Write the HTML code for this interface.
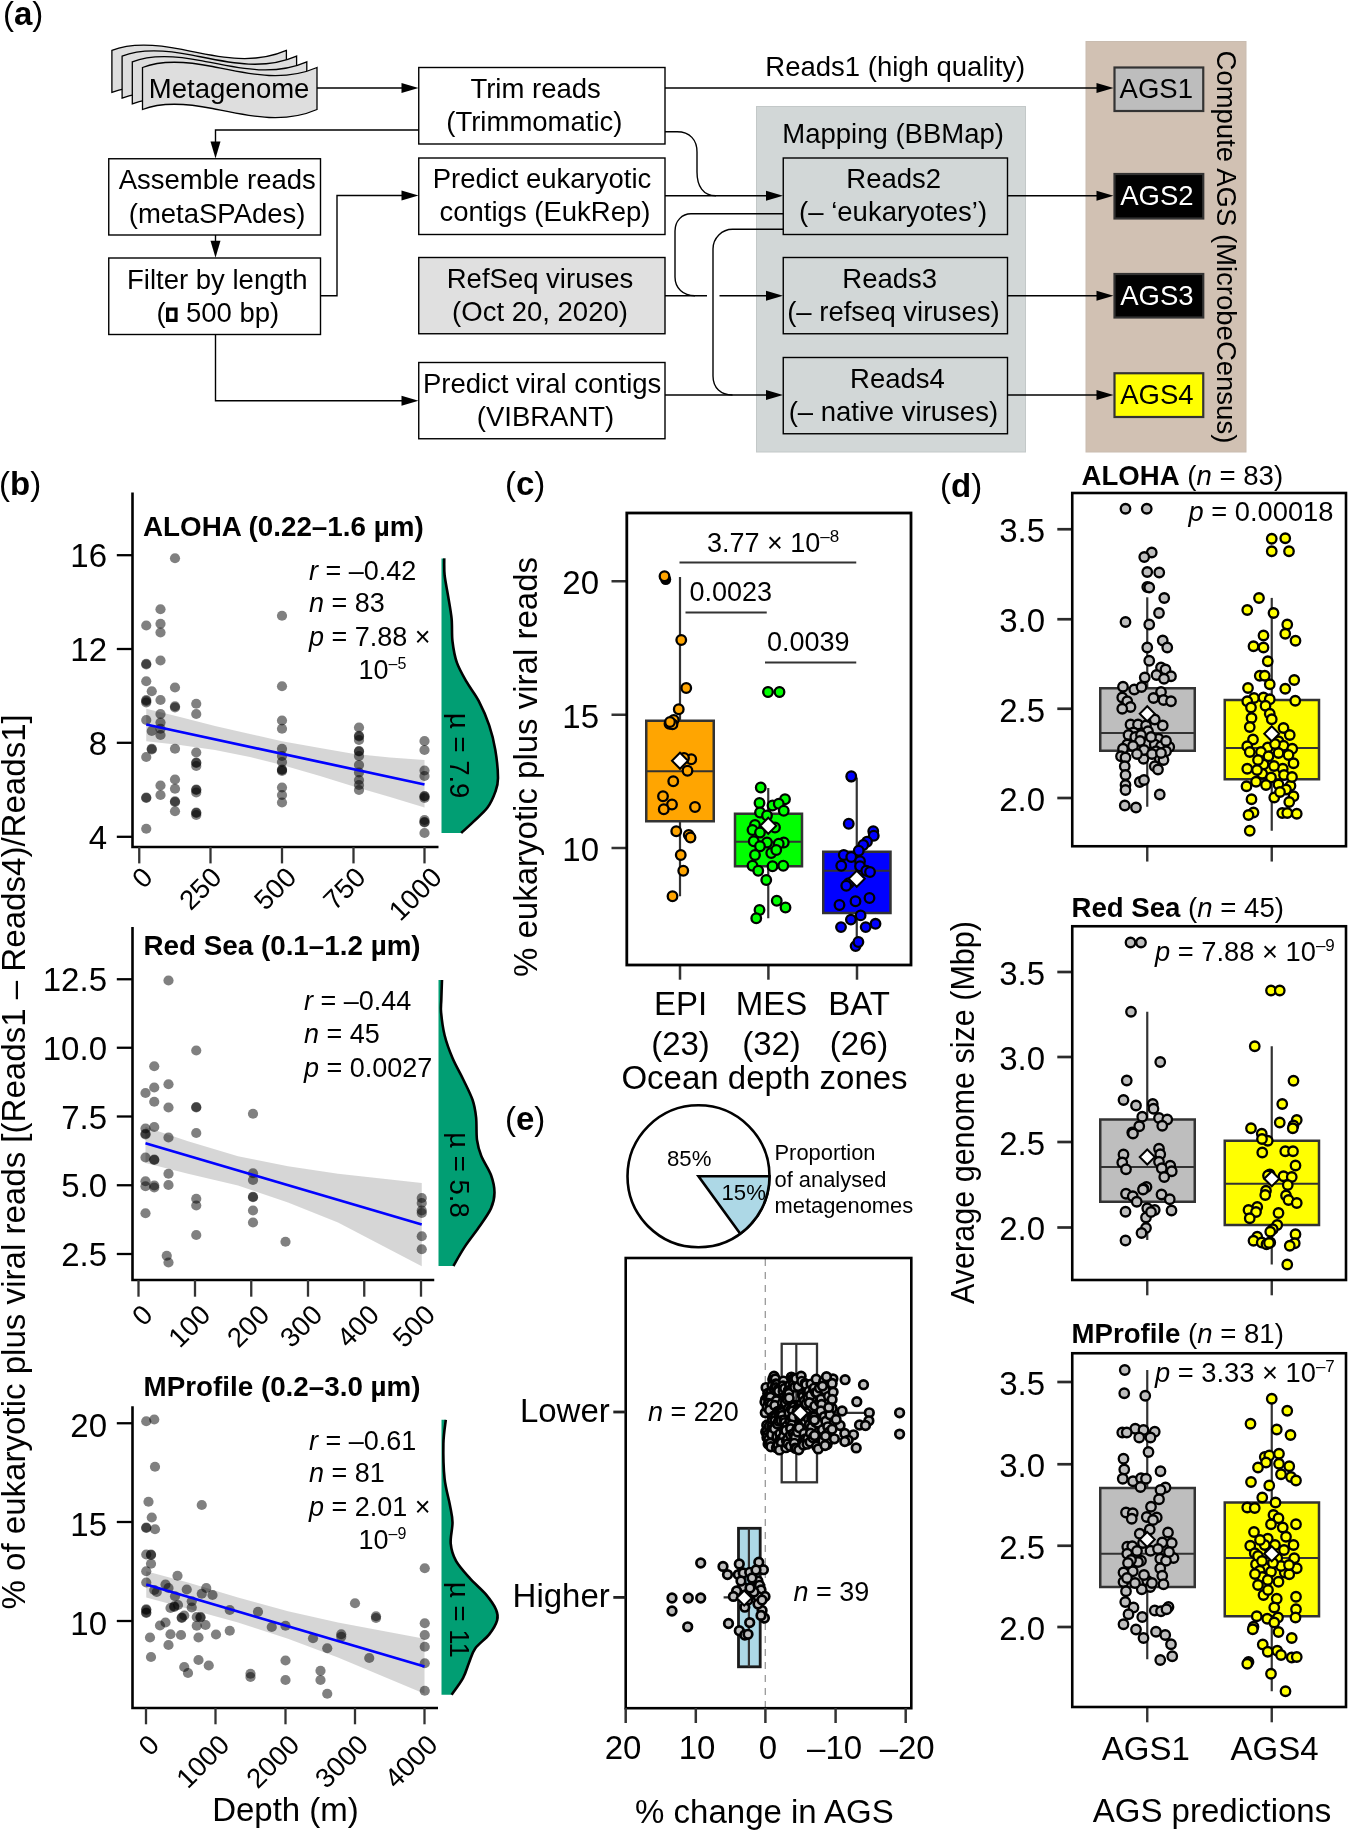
<!DOCTYPE html>
<html><head><meta charset="utf-8"><title>Figure</title>
<style>html,body{margin:0;padding:0;background:#fff}svg{display:block}text{font-family:"Liberation Sans",Arial,Helvetica,sans-serif}</style>
</head><body>
<svg width="1348" height="1830" viewBox="0 0 1348 1830">
<rect width="1348" height="1830" fill="#fff"/>
<g id="fig" opacity="0.999">
<g id="pa">
<rect x="756.5" y="106.5" width="269" height="345.5" fill="#d2d7d7" stroke="#c3c8c8" stroke-width="1"/>
<rect x="1086" y="41.5" width="160" height="410.5" fill="#d1c1b3" stroke="#c9bcb0" stroke-width="1"/>
<path d="M111.90,50.40 c20,-8 45,-6 70,-1 c35,7 70,16 104.5,1 v42 c-34.5,15 -69.5,6 -104.5,-1 c-25,-5 -50,-7 -70,1 z" fill="#dedede" stroke="#000" stroke-width="1.3" stroke-linejoin="miter"/>
<path d="M122.10,56.10 c20,-8 45,-6 70,-1 c35,7 70,16 104.5,1 v42 c-34.5,15 -69.5,6 -104.5,-1 c-25,-5 -50,-7 -70,1 z" fill="#dedede" stroke="#000" stroke-width="1.3" stroke-linejoin="miter"/>
<path d="M132.30,61.80 c20,-8 45,-6 70,-1 c35,7 70,16 104.5,1 v42 c-34.5,15 -69.5,6 -104.5,-1 c-25,-5 -50,-7 -70,1 z" fill="#dedede" stroke="#000" stroke-width="1.3" stroke-linejoin="miter"/>
<path d="M142.50,67.50 c20,-8 45,-6 70,-1 c35,7 70,16 104.5,1 v42 c-34.5,15 -69.5,6 -104.5,-1 c-25,-5 -50,-7 -70,1 z" fill="#dedede" stroke="#000" stroke-width="1.3" stroke-linejoin="miter"/>
<rect x="418.75" y="67.50" width="246.25" height="76.50" fill="#fff" stroke="#000" stroke-width="1.4"/>
<rect x="108.75" y="158.75" width="211.75" height="76.25" fill="#fff" stroke="#000" stroke-width="1.4"/>
<rect x="108.75" y="258.00" width="211.75" height="76.50" fill="#fff" stroke="#000" stroke-width="1.4"/>
<rect x="418.75" y="158.00" width="246.25" height="76.50" fill="#fff" stroke="#000" stroke-width="1.4"/>
<rect x="418.75" y="257.50" width="246.25" height="76.25" fill="#e0e0e0" stroke="#000" stroke-width="1.4"/>
<rect x="418.75" y="362.50" width="246.25" height="76.25" fill="#fff" stroke="#000" stroke-width="1.4"/>
<rect x="783.25" y="158.00" width="224.25" height="76.50" fill="none" stroke="#000" stroke-width="1.4"/>
<rect x="783.25" y="257.50" width="224.25" height="76.25" fill="none" stroke="#000" stroke-width="1.4"/>
<rect x="783.25" y="357.50" width="224.25" height="76.25" fill="none" stroke="#000" stroke-width="1.4"/>
<rect x="1114.50" y="67.50" width="88.75" height="43.50" fill="#bdbdbd" stroke="#333" stroke-width="2.2"/>
<rect x="1114.50" y="174.00" width="88.75" height="44.50" fill="#000" stroke="#333" stroke-width="2.2"/>
<rect x="1114.50" y="274.00" width="88.75" height="43.50" fill="#000" stroke="#333" stroke-width="2.2"/>
<rect x="1114.50" y="373.25" width="88.75" height="43.75" fill="#ffff00" stroke="#333" stroke-width="2.2"/>
<path d="M317,88 H405" fill="none" stroke="#000" stroke-width="1.4"/>
<path d="M418.50,88.00 l-17,-5 v10 z" fill="#000"/>
<path d="M418.75,130 H215.5 V145" fill="none" stroke="#000" stroke-width="1.4"/>
<path d="M215.50,158.50 l-5,-17 h10 z" fill="#000"/>
<path d="M215.5,235 V245" fill="none" stroke="#000" stroke-width="1.4"/>
<path d="M215.50,257.80 l-5,-17 h10 z" fill="#000"/>
<path d="M320.5,295.75 H337 V195.5 H405" fill="none" stroke="#000" stroke-width="1.4"/>
<path d="M418.50,195.50 l-17,-5 v10 z" fill="#000"/>
<path d="M215.5,334.5 V400.75 H405" fill="none" stroke="#000" stroke-width="1.4"/>
<path d="M418.50,400.75 l-17,-5 v10 z" fill="#000"/>
<path d="M665,88 H1100" fill="none" stroke="#000" stroke-width="1.4"/>
<path d="M1113.50,88.00 l-17,-5 v10 z" fill="#000"/>
<path d="M665,131.75 H677 C690,131.75 697,140 697,152 V172 C697,186 703,195.75 716,195.75" fill="none" stroke="#000" stroke-width="1.4"/>
<path d="M665,195.75 H770" fill="none" stroke="#000" stroke-width="1.4"/>
<path d="M783.00,195.75 l-17,-5 v10 z" fill="#000"/>
<path d="M783.25,213.75 H691 C682,213.75 675,221 675,231 V277 C675,288 683,295.75 695,295.75" fill="none" stroke="#000" stroke-width="1.4"/>
<path d="M665,295.75 H707 M719.5,295.75 H770" fill="none" stroke="#000" stroke-width="1.4"/>
<path d="M783.00,295.75 l-17,-5 v10 z" fill="#000"/>
<path d="M783.25,229.25 H732.5 C722,229.25 713,238 713,249 V376 C713,388 721,395 732.5,395" fill="none" stroke="#000" stroke-width="1.4"/>
<path d="M665,395 H770" fill="none" stroke="#000" stroke-width="1.4"/>
<path d="M783.00,395.00 l-17,-5 v10 z" fill="#000"/>
<path d="M1007.5,195.75 H1100" fill="none" stroke="#000" stroke-width="1.4"/>
<path d="M1113.50,195.75 l-17,-5 v10 z" fill="#000"/>
<path d="M1007.5,295.75 H1100" fill="none" stroke="#000" stroke-width="1.4"/>
<path d="M1113.50,295.75 l-17,-5 v10 z" fill="#000"/>
<path d="M1007.5,395 H1100" fill="none" stroke="#000" stroke-width="1.4"/>
<path d="M1113.50,395.00 l-17,-5 v10 z" fill="#000"/>
<text x="229.12" y="97.50" font-size="27.5" text-anchor="middle" fill="#000">Metagenome</text>
<text x="535.62" y="98.00" font-size="27.5" text-anchor="middle" fill="#000">Trim reads</text>
<text x="534.38" y="131.25" font-size="27.5" text-anchor="middle" fill="#000">(Trimmomatic)</text>
<text x="217.25" y="188.75" font-size="27.5" text-anchor="middle" fill="#000">Assemble reads</text>
<text x="217.12" y="222.50" font-size="27.5" text-anchor="middle" fill="#000">(metaSPAdes)</text>
<text x="217.25" y="288.75" font-size="27.5" text-anchor="middle" fill="#000">Filter by length</text>
<text x="156.6" y="322" font-size="27.5">(</text>
<rect x="167.6" y="309.1" width="8.4" height="11.3" fill="none" stroke="#000" stroke-width="3.2"/>
<text x="186" y="322" font-size="27.5">500 bp)</text>
<text x="542.00" y="188.00" font-size="27.5" text-anchor="middle" fill="#000">Predict eukaryotic</text>
<text x="545.00" y="221.25" font-size="27.5" text-anchor="middle" fill="#000">contigs (EukRep)</text>
<text x="540.00" y="288.00" font-size="27.5" text-anchor="middle" fill="#000">RefSeq viruses</text>
<text x="540.00" y="321.25" font-size="27.5" text-anchor="middle" fill="#000">(Oct 20, 2020)</text>
<text x="542.12" y="392.50" font-size="27.5" text-anchor="middle" fill="#000">Predict viral contigs</text>
<text x="545.50" y="426.25" font-size="27.5" text-anchor="middle" fill="#000">(VIBRANT)</text>
<text x="895.25" y="76.25" font-size="27.5" text-anchor="middle" fill="#000">Reads1 (high quality)</text>
<text x="893.12" y="143.00" font-size="27.5" text-anchor="middle" fill="#000">Mapping (BBMap)</text>
<text x="893.75" y="188.00" font-size="27.5" text-anchor="middle" fill="#000">Reads2</text>
<text x="893.12" y="221.25" font-size="27.5" text-anchor="middle" fill="#000">(– ‘eukaryotes’)</text>
<text x="889.75" y="288.00" font-size="27.5" text-anchor="middle" fill="#000">Reads3</text>
<text x="893.38" y="321.25" font-size="27.5" text-anchor="middle" fill="#000">(– refseq viruses)</text>
<text x="897.50" y="387.50" font-size="27.5" text-anchor="middle" fill="#000">Reads4</text>
<text x="893.38" y="421.25" font-size="27.5" text-anchor="middle" fill="#000">(– native viruses)</text>
<text x="1156.25" y="98.00" font-size="27.5" text-anchor="middle" fill="#000">AGS1</text>
<text x="1156.88" y="205.00" font-size="27.5" text-anchor="middle" fill="#fff">AGS2</text>
<text x="1156.88" y="304.50" font-size="27.5" text-anchor="middle" fill="#fff">AGS3</text>
<text x="1156.88" y="403.75" font-size="27.5" text-anchor="middle" fill="#000">AGS4</text>
<text transform="translate(1216.5,50.5) rotate(90)" font-size="27.5">Compute AGS (MicrobeCensus)</text>
<text x="3" y="24.5" font-size="33">(<tspan font-weight="bold">a</tspan>)</text>
</g>
<g id="pb">
<path d="M146.25,708.75 L180.00,717.00 L215.00,726.00 L250.00,734.00 L282.00,741.25 L320.00,748.00 L353.00,753.75 L390.00,757.50 L424.50,760.00 L424.50,807.50 L390.00,797.00 L353.00,786.25 L320.00,776.00 L282.00,765.00 L250.00,757.00 L215.00,750.00 L180.00,745.00 L146.25,741.25 Z" fill="#999" fill-opacity="0.4"/>
<g fill="#000" fill-opacity="0.5">
<circle cx="175.00" cy="558.25" r="5.1"/>
<circle cx="160.50" cy="609.25" r="5.1"/>
<circle cx="146.25" cy="625.50" r="5.1"/>
<circle cx="160.50" cy="623.75" r="5.1"/>
<circle cx="160.50" cy="632.50" r="5.1"/>
<circle cx="282.00" cy="615.75" r="5.1"/>
<circle cx="146.25" cy="663.75" r="5.1"/>
<circle cx="146.25" cy="664.50" r="5.1"/>
<circle cx="160.50" cy="660.50" r="5.1"/>
<circle cx="146.25" cy="681.25" r="5.1"/>
<circle cx="151.75" cy="691.25" r="5.1"/>
<circle cx="175.00" cy="687.50" r="5.1"/>
<circle cx="282.00" cy="686.25" r="5.1"/>
<circle cx="146.25" cy="700.00" r="5.1"/>
<circle cx="146.25" cy="702.50" r="5.1"/>
<circle cx="146.25" cy="701.00" r="5.1"/>
<circle cx="160.50" cy="700.00" r="5.1"/>
<circle cx="175.00" cy="706.25" r="5.1"/>
<circle cx="175.00" cy="707.50" r="5.1"/>
<circle cx="196.25" cy="703.75" r="5.1"/>
<circle cx="146.25" cy="720.00" r="5.1"/>
<circle cx="146.25" cy="757.00" r="5.1"/>
<circle cx="146.25" cy="797.50" r="5.1"/>
<circle cx="146.25" cy="798.00" r="5.1"/>
<circle cx="146.25" cy="828.75" r="5.1"/>
<circle cx="151.75" cy="731.00" r="5.1"/>
<circle cx="151.75" cy="748.75" r="5.1"/>
<circle cx="151.75" cy="749.50" r="5.1"/>
<circle cx="160.50" cy="714.00" r="5.1"/>
<circle cx="160.50" cy="722.50" r="5.1"/>
<circle cx="160.50" cy="728.75" r="5.1"/>
<circle cx="160.50" cy="735.00" r="5.1"/>
<circle cx="160.50" cy="785.50" r="5.1"/>
<circle cx="160.50" cy="795.00" r="5.1"/>
<circle cx="175.00" cy="748.75" r="5.1"/>
<circle cx="175.00" cy="779.50" r="5.1"/>
<circle cx="175.00" cy="788.75" r="5.1"/>
<circle cx="175.00" cy="801.25" r="5.1"/>
<circle cx="175.00" cy="802.00" r="5.1"/>
<circle cx="175.00" cy="811.25" r="5.1"/>
<circle cx="196.25" cy="714.00" r="5.1"/>
<circle cx="196.25" cy="752.50" r="5.1"/>
<circle cx="196.25" cy="762.50" r="5.1"/>
<circle cx="196.25" cy="763.00" r="5.1"/>
<circle cx="196.25" cy="766.00" r="5.1"/>
<circle cx="196.25" cy="789.50" r="5.1"/>
<circle cx="196.25" cy="790.00" r="5.1"/>
<circle cx="196.25" cy="792.50" r="5.1"/>
<circle cx="196.25" cy="812.50" r="5.1"/>
<circle cx="196.25" cy="813.00" r="5.1"/>
<circle cx="196.25" cy="815.00" r="5.1"/>
<circle cx="282.00" cy="720.50" r="5.1"/>
<circle cx="282.00" cy="728.75" r="5.1"/>
<circle cx="282.00" cy="748.75" r="5.1"/>
<circle cx="282.00" cy="756.00" r="5.1"/>
<circle cx="282.00" cy="762.00" r="5.1"/>
<circle cx="282.00" cy="769.50" r="5.1"/>
<circle cx="282.00" cy="770.00" r="5.1"/>
<circle cx="282.00" cy="771.00" r="5.1"/>
<circle cx="282.00" cy="787.50" r="5.1"/>
<circle cx="282.00" cy="795.00" r="5.1"/>
<circle cx="282.00" cy="802.50" r="5.1"/>
<circle cx="359.00" cy="727.50" r="5.1"/>
<circle cx="359.00" cy="735.75" r="5.1"/>
<circle cx="359.00" cy="736.50" r="5.1"/>
<circle cx="359.00" cy="740.00" r="5.1"/>
<circle cx="359.00" cy="751.00" r="5.1"/>
<circle cx="359.00" cy="751.50" r="5.1"/>
<circle cx="359.00" cy="756.00" r="5.1"/>
<circle cx="359.00" cy="765.00" r="5.1"/>
<circle cx="359.00" cy="772.50" r="5.1"/>
<circle cx="359.00" cy="780.00" r="5.1"/>
<circle cx="359.00" cy="785.00" r="5.1"/>
<circle cx="359.00" cy="790.00" r="5.1"/>
<circle cx="424.50" cy="741.00" r="5.1"/>
<circle cx="424.50" cy="750.00" r="5.1"/>
<circle cx="424.50" cy="770.50" r="5.1"/>
<circle cx="424.50" cy="776.00" r="5.1"/>
<circle cx="424.50" cy="796.00" r="5.1"/>
<circle cx="424.50" cy="796.50" r="5.1"/>
<circle cx="424.50" cy="798.00" r="5.1"/>
<circle cx="424.50" cy="820.00" r="5.1"/>
<circle cx="424.50" cy="822.00" r="5.1"/>
<circle cx="424.50" cy="822.50" r="5.1"/>
<circle cx="424.50" cy="833.00" r="5.1"/>
</g>
<path d="M146.25,724.5 L424.5,784.5" stroke="#0000ff" stroke-width="2.7" fill="none"/>
<path d="M132.50,492.50 V847.00 H438.50" fill="none" stroke="#000" stroke-width="2.6" stroke-linejoin="miter"/>
<path d="M116.8,555.20 H132.50" stroke="#000" stroke-width="2.3"/>
<path d="M116.8,649.00 H132.50" stroke="#000" stroke-width="2.3"/>
<path d="M116.8,742.80 H132.50" stroke="#000" stroke-width="2.3"/>
<path d="M116.8,836.80 H132.50" stroke="#000" stroke-width="2.3"/>
<path d="M139.25,847.00 V863.40" stroke="#333" stroke-width="2.3"/>
<path d="M210.50,847.00 V863.40" stroke="#333" stroke-width="2.3"/>
<path d="M282.00,847.00 V863.40" stroke="#333" stroke-width="2.3"/>
<path d="M353.50,847.00 V863.40" stroke="#333" stroke-width="2.3"/>
<path d="M424.50,847.00 V863.40" stroke="#333" stroke-width="2.3"/>
<text x="107" y="567.20" font-size="33" text-anchor="end">16</text>
<text x="107" y="661.00" font-size="33" text-anchor="end">12</text>
<text x="107" y="754.80" font-size="33" text-anchor="end">8</text>
<text x="107" y="848.80" font-size="33" text-anchor="end">4</text>
<text transform="translate(154.35,879.00) rotate(-45)" font-size="27.5" text-anchor="end">0</text>
<text transform="translate(223.20,879.00) rotate(-45)" font-size="27.5" text-anchor="end">250</text>
<text transform="translate(298.00,879.00) rotate(-45)" font-size="27.5" text-anchor="end">500</text>
<text transform="translate(367.30,879.00) rotate(-45)" font-size="27.5" text-anchor="end">750</text>
<text transform="translate(443.60,879.00) rotate(-45)" font-size="27.5" text-anchor="end">1000</text>
<text x="143" y="535.5" font-size="27.8" font-weight="bold">ALOHA (0.22–1.6 µm)</text>
<text x="309.00" y="579.50" font-size="27"><tspan font-style="italic">r</tspan> = –0.42</text>
<text x="309.00" y="612.00" font-size="27"><tspan font-style="italic">n</tspan> = 83</text>
<text x="309.00" y="645.50" font-size="27"><tspan font-style="italic">p</tspan> = 7.88 ×</text>
<text x="358.50" y="678.75" font-size="27">10<tspan font-size="16" dy="-10">–5</tspan></text>
<path d="M444.25,558.40 C444.31,561.17 443.96,568.73 444.60,575.00 C445.24,581.27 446.93,588.72 448.10,596.00 C449.27,603.28 450.87,611.12 451.60,618.70 C452.33,626.28 451.63,634.22 452.50,641.50 C453.37,648.78 454.47,655.70 456.80,662.40 C459.13,669.10 462.85,675.28 466.50,681.70 C470.15,688.12 474.92,693.62 478.70,700.90 C482.48,708.18 486.43,717.23 489.20,725.40 C491.97,733.57 493.83,741.15 495.30,749.90 C496.77,758.65 498.00,770.90 498.00,777.90 C498.00,784.90 497.05,786.95 495.30,791.90 C493.55,796.85 491.13,802.65 487.50,807.60 C483.87,812.55 477.88,817.37 473.50,821.60 C469.12,825.83 463.25,831.10 461.20,833.00 L441.50,833.00 L441.50,558.40 Z" fill="#009e73"/>
<path d="M444.25,558.40 C444.31,561.17 443.96,568.73 444.60,575.00 C445.24,581.27 446.93,588.72 448.10,596.00 C449.27,603.28 450.87,611.12 451.60,618.70 C452.33,626.28 451.63,634.22 452.50,641.50 C453.37,648.78 454.47,655.70 456.80,662.40 C459.13,669.10 462.85,675.28 466.50,681.70 C470.15,688.12 474.92,693.62 478.70,700.90 C482.48,708.18 486.43,717.23 489.20,725.40 C491.97,733.57 493.83,741.15 495.30,749.90 C496.77,758.65 498.00,770.90 498.00,777.90 C498.00,784.90 497.05,786.95 495.30,791.90 C493.55,796.85 491.13,802.65 487.50,807.60 C483.87,812.55 477.88,817.37 473.50,821.60 C469.12,825.83 463.25,831.10 461.20,833.00" fill="none" stroke="#000" stroke-width="2.6"/>
<text transform="translate(450,713.00) rotate(90)" font-size="27.5">µ = 7.9</text>
<path d="M145.50,1127.00 L188.00,1141.25 L238.00,1156.25 L288.00,1166.25 L338.00,1173.75 L421.75,1183.00 L421.75,1266.25 L338.00,1222.50 L288.00,1202.50 L238.00,1185.50 L188.00,1173.75 L145.50,1163.00 Z" fill="#999" fill-opacity="0.4"/>
<g fill="#000" fill-opacity="0.5">
<circle cx="168.50" cy="980.50" r="5.1"/>
<circle cx="196.25" cy="1050.50" r="5.1"/>
<circle cx="154.25" cy="1066.25" r="5.1"/>
<circle cx="168.50" cy="1084.25" r="5.1"/>
<circle cx="154.25" cy="1087.50" r="5.1"/>
<circle cx="145.50" cy="1093.00" r="5.1"/>
<circle cx="154.25" cy="1101.75" r="5.1"/>
<circle cx="168.50" cy="1107.50" r="5.1"/>
<circle cx="196.25" cy="1107.00" r="5.1"/>
<circle cx="196.25" cy="1107.50" r="5.1"/>
<circle cx="253.00" cy="1113.75" r="5.1"/>
<circle cx="145.50" cy="1128.50" r="5.1"/>
<circle cx="154.25" cy="1127.00" r="5.1"/>
<circle cx="145.50" cy="1133.75" r="5.1"/>
<circle cx="145.50" cy="1134.50" r="5.1"/>
<circle cx="196.25" cy="1133.00" r="5.1"/>
<circle cx="168.50" cy="1137.50" r="5.1"/>
<circle cx="145.50" cy="1157.50" r="5.1"/>
<circle cx="154.25" cy="1159.50" r="5.1"/>
<circle cx="154.25" cy="1160.00" r="5.1"/>
<circle cx="168.50" cy="1173.75" r="5.1"/>
<circle cx="168.50" cy="1185.00" r="5.1"/>
<circle cx="145.50" cy="1181.25" r="5.1"/>
<circle cx="145.50" cy="1186.25" r="5.1"/>
<circle cx="154.25" cy="1185.50" r="5.1"/>
<circle cx="154.25" cy="1187.50" r="5.1"/>
<circle cx="145.50" cy="1213.25" r="5.1"/>
<circle cx="196.25" cy="1198.75" r="5.1"/>
<circle cx="196.25" cy="1205.50" r="5.1"/>
<circle cx="196.25" cy="1235.00" r="5.1"/>
<circle cx="166.75" cy="1255.75" r="5.1"/>
<circle cx="168.50" cy="1262.50" r="5.1"/>
<circle cx="253.00" cy="1173.25" r="5.1"/>
<circle cx="253.00" cy="1180.00" r="5.1"/>
<circle cx="253.00" cy="1196.75" r="5.1"/>
<circle cx="253.00" cy="1197.25" r="5.1"/>
<circle cx="253.00" cy="1210.50" r="5.1"/>
<circle cx="253.00" cy="1222.50" r="5.1"/>
<circle cx="285.50" cy="1241.75" r="5.1"/>
<circle cx="421.75" cy="1198.00" r="5.1"/>
<circle cx="421.75" cy="1203.00" r="5.1"/>
<circle cx="421.75" cy="1210.50" r="5.1"/>
<circle cx="421.75" cy="1213.00" r="5.1"/>
<circle cx="421.75" cy="1236.25" r="5.1"/>
<circle cx="421.75" cy="1249.25" r="5.1"/>
</g>
<path d="M145.5,1143.25 L421.75,1224.5" stroke="#0000ff" stroke-width="2.7" fill="none"/>
<path d="M132.50,927.00 V1280.00 H434.25" fill="none" stroke="#000" stroke-width="2.6" stroke-linejoin="miter"/>
<path d="M116.8,979.25 H132.50" stroke="#000" stroke-width="2.3"/>
<path d="M116.8,1047.75 H132.50" stroke="#000" stroke-width="2.3"/>
<path d="M116.8,1116.50 H132.50" stroke="#000" stroke-width="2.3"/>
<path d="M116.8,1185.25 H132.50" stroke="#000" stroke-width="2.3"/>
<path d="M116.8,1254.00 H132.50" stroke="#000" stroke-width="2.3"/>
<path d="M138.50,1280.00 V1296.70" stroke="#333" stroke-width="2.3"/>
<path d="M195.00,1280.00 V1296.70" stroke="#333" stroke-width="2.3"/>
<path d="M251.25,1280.00 V1296.70" stroke="#333" stroke-width="2.3"/>
<path d="M308.00,1280.00 V1296.70" stroke="#333" stroke-width="2.3"/>
<path d="M364.25,1280.00 V1296.70" stroke="#333" stroke-width="2.3"/>
<path d="M421.00,1280.00 V1296.70" stroke="#333" stroke-width="2.3"/>
<text x="107" y="991.25" font-size="33" text-anchor="end">12.5</text>
<text x="107" y="1059.75" font-size="33" text-anchor="end">10.0</text>
<text x="107" y="1128.50" font-size="33" text-anchor="end">7.5</text>
<text x="107" y="1197.25" font-size="33" text-anchor="end">5.0</text>
<text x="107" y="1266.00" font-size="33" text-anchor="end">2.5</text>
<text transform="translate(154.20,1316.50) rotate(-45)" font-size="27.5" text-anchor="end">0</text>
<text transform="translate(212.10,1316.50) rotate(-45)" font-size="27.5" text-anchor="end">100</text>
<text transform="translate(270.95,1316.50) rotate(-45)" font-size="27.5" text-anchor="end">200</text>
<text transform="translate(324.00,1316.50) rotate(-45)" font-size="27.5" text-anchor="end">300</text>
<text transform="translate(380.75,1316.50) rotate(-45)" font-size="27.5" text-anchor="end">400</text>
<text transform="translate(436.70,1316.50) rotate(-45)" font-size="27.5" text-anchor="end">500</text>
<text x="143.5" y="955" font-size="27.8" font-weight="bold">Red Sea (0.1–1.2 µm)</text>
<text x="304.00" y="1010.00" font-size="27"><tspan font-style="italic">r</tspan> = –0.44</text>
<text x="304.00" y="1043.00" font-size="27"><tspan font-style="italic">n</tspan> = 45</text>
<text x="304.00" y="1076.75" font-size="27"><tspan font-style="italic">p</tspan> = 0.0027</text>
<path d="M442.00,980.00 C441.88,983.33 441.45,994.58 441.30,1000.00 C441.15,1005.42 440.55,1006.63 441.10,1012.50 C441.65,1018.37 442.70,1027.62 444.60,1035.20 C446.50,1042.78 449.43,1050.70 452.50,1058.00 C455.57,1065.30 459.65,1072.00 463.00,1079.00 C466.35,1086.00 470.42,1093.60 472.60,1100.00 C474.78,1106.40 475.37,1110.73 476.10,1117.40 C476.83,1124.07 476.13,1133.57 477.00,1140.00 C477.87,1146.43 478.97,1150.17 481.30,1156.00 C483.63,1161.83 488.80,1168.90 491.00,1175.00 C493.20,1181.10 494.50,1187.03 494.50,1192.60 C494.50,1198.17 493.63,1202.57 491.00,1208.40 C488.37,1214.23 483.08,1221.18 478.70,1227.60 C474.32,1234.02 468.92,1240.50 464.70,1246.90 C460.48,1253.30 455.28,1262.82 453.40,1266.00 L438.50,1266.00 L438.50,980.00 Z" fill="#009e73"/>
<path d="M442.00,980.00 C441.88,983.33 441.45,994.58 441.30,1000.00 C441.15,1005.42 440.55,1006.63 441.10,1012.50 C441.65,1018.37 442.70,1027.62 444.60,1035.20 C446.50,1042.78 449.43,1050.70 452.50,1058.00 C455.57,1065.30 459.65,1072.00 463.00,1079.00 C466.35,1086.00 470.42,1093.60 472.60,1100.00 C474.78,1106.40 475.37,1110.73 476.10,1117.40 C476.83,1124.07 476.13,1133.57 477.00,1140.00 C477.87,1146.43 478.97,1150.17 481.30,1156.00 C483.63,1161.83 488.80,1168.90 491.00,1175.00 C493.20,1181.10 494.50,1187.03 494.50,1192.60 C494.50,1198.17 493.63,1202.57 491.00,1208.40 C488.37,1214.23 483.08,1221.18 478.70,1227.60 C474.32,1234.02 468.92,1240.50 464.70,1246.90 C460.48,1253.30 455.28,1262.82 453.40,1266.00" fill="none" stroke="#000" stroke-width="2.6"/>
<text transform="translate(450,1132.30) rotate(90)" font-size="27.5">µ = 5.8</text>
<path d="M146.25,1571.25 L188.00,1582.50 L238.00,1597.50 L288.00,1611.25 L338.00,1622.50 L424.50,1638.75 L424.50,1693.75 L338.00,1657.50 L288.00,1638.75 L238.00,1622.50 L188.00,1608.75 L146.25,1597.50 Z" fill="#999" fill-opacity="0.4"/>
<g fill="#000" fill-opacity="0.5">
<circle cx="146.25" cy="1421.25" r="5.1"/>
<circle cx="154.25" cy="1419.50" r="5.1"/>
<circle cx="155.00" cy="1466.75" r="5.1"/>
<circle cx="148.50" cy="1501.75" r="5.1"/>
<circle cx="201.75" cy="1505.00" r="5.1"/>
<circle cx="151.75" cy="1517.50" r="5.1"/>
<circle cx="146.25" cy="1527.50" r="5.1"/>
<circle cx="146.25" cy="1528.00" r="5.1"/>
<circle cx="155.00" cy="1529.25" r="5.1"/>
<circle cx="146.25" cy="1554.50" r="5.1"/>
<circle cx="151.00" cy="1555.00" r="5.1"/>
<circle cx="151.00" cy="1554.50" r="5.1"/>
<circle cx="151.00" cy="1563.75" r="5.1"/>
<circle cx="146.25" cy="1571.25" r="5.1"/>
<circle cx="177.50" cy="1575.75" r="5.1"/>
<circle cx="424.75" cy="1568.25" r="5.1"/>
<circle cx="146.25" cy="1582.50" r="5.1"/>
<circle cx="154.25" cy="1590.00" r="5.1"/>
<circle cx="156.75" cy="1592.00" r="5.1"/>
<circle cx="165.50" cy="1584.50" r="5.1"/>
<circle cx="168.50" cy="1588.00" r="5.1"/>
<circle cx="175.00" cy="1596.25" r="5.1"/>
<circle cx="186.75" cy="1589.50" r="5.1"/>
<circle cx="206.25" cy="1588.00" r="5.1"/>
<circle cx="201.75" cy="1593.75" r="5.1"/>
<circle cx="212.50" cy="1595.00" r="5.1"/>
<circle cx="191.75" cy="1601.25" r="5.1"/>
<circle cx="178.00" cy="1605.00" r="5.1"/>
<circle cx="170.50" cy="1608.00" r="5.1"/>
<circle cx="174.25" cy="1606.25" r="5.1"/>
<circle cx="174.25" cy="1607.00" r="5.1"/>
<circle cx="191.75" cy="1607.50" r="5.1"/>
<circle cx="146.25" cy="1609.25" r="5.1"/>
<circle cx="146.25" cy="1610.00" r="5.1"/>
<circle cx="146.25" cy="1612.50" r="5.1"/>
<circle cx="146.25" cy="1613.00" r="5.1"/>
<circle cx="229.75" cy="1610.00" r="5.1"/>
<circle cx="258.00" cy="1611.75" r="5.1"/>
<circle cx="184.25" cy="1615.50" r="5.1"/>
<circle cx="181.75" cy="1617.50" r="5.1"/>
<circle cx="181.75" cy="1618.00" r="5.1"/>
<circle cx="196.75" cy="1617.00" r="5.1"/>
<circle cx="200.50" cy="1617.00" r="5.1"/>
<circle cx="200.50" cy="1617.50" r="5.1"/>
<circle cx="165.50" cy="1622.50" r="5.1"/>
<circle cx="160.00" cy="1625.50" r="5.1"/>
<circle cx="196.75" cy="1625.75" r="5.1"/>
<circle cx="205.50" cy="1625.00" r="5.1"/>
<circle cx="229.75" cy="1630.75" r="5.1"/>
<circle cx="271.75" cy="1627.00" r="5.1"/>
<circle cx="285.50" cy="1625.75" r="5.1"/>
<circle cx="170.50" cy="1634.25" r="5.1"/>
<circle cx="181.00" cy="1635.00" r="5.1"/>
<circle cx="198.50" cy="1637.50" r="5.1"/>
<circle cx="216.00" cy="1634.50" r="5.1"/>
<circle cx="150.00" cy="1637.50" r="5.1"/>
<circle cx="168.50" cy="1645.00" r="5.1"/>
<circle cx="151.00" cy="1657.00" r="5.1"/>
<circle cx="198.50" cy="1660.00" r="5.1"/>
<circle cx="208.75" cy="1665.50" r="5.1"/>
<circle cx="184.25" cy="1667.00" r="5.1"/>
<circle cx="188.00" cy="1673.00" r="5.1"/>
<circle cx="250.50" cy="1673.75" r="5.1"/>
<circle cx="250.50" cy="1677.00" r="5.1"/>
<circle cx="285.50" cy="1660.50" r="5.1"/>
<circle cx="285.50" cy="1680.00" r="5.1"/>
<circle cx="313.00" cy="1638.25" r="5.1"/>
<circle cx="327.25" cy="1648.25" r="5.1"/>
<circle cx="320.50" cy="1670.75" r="5.1"/>
<circle cx="320.50" cy="1680.00" r="5.1"/>
<circle cx="327.25" cy="1693.75" r="5.1"/>
<circle cx="341.25" cy="1634.25" r="5.1"/>
<circle cx="341.25" cy="1636.75" r="5.1"/>
<circle cx="355.00" cy="1603.25" r="5.1"/>
<circle cx="369.25" cy="1658.00" r="5.1"/>
<circle cx="376.00" cy="1616.25" r="5.1"/>
<circle cx="376.00" cy="1618.00" r="5.1"/>
<circle cx="424.75" cy="1623.25" r="5.1"/>
<circle cx="424.75" cy="1635.00" r="5.1"/>
<circle cx="424.75" cy="1646.75" r="5.1"/>
<circle cx="424.75" cy="1663.25" r="5.1"/>
<circle cx="424.75" cy="1690.75" r="5.1"/>
</g>
<path d="M146.25,1584.5 L424.5,1666.5" stroke="#0000ff" stroke-width="2.7" fill="none"/>
<path d="M132.50,1406.25 V1708.00 H438.00" fill="none" stroke="#000" stroke-width="2.6" stroke-linejoin="miter"/>
<path d="M116.8,1423.25 H132.50" stroke="#000" stroke-width="2.3"/>
<path d="M116.8,1522.00 H132.50" stroke="#000" stroke-width="2.3"/>
<path d="M116.8,1621.00 H132.50" stroke="#000" stroke-width="2.3"/>
<path d="M146.00,1708.00 V1724.30" stroke="#333" stroke-width="2.3"/>
<path d="M215.50,1708.00 V1724.30" stroke="#333" stroke-width="2.3"/>
<path d="M285.50,1708.00 V1724.30" stroke="#333" stroke-width="2.3"/>
<path d="M355.00,1708.00 V1724.30" stroke="#333" stroke-width="2.3"/>
<path d="M424.50,1708.00 V1724.30" stroke="#333" stroke-width="2.3"/>
<text x="107" y="1436.75" font-size="33" text-anchor="end">20</text>
<text x="107" y="1535.50" font-size="33" text-anchor="end">15</text>
<text x="107" y="1634.50" font-size="33" text-anchor="end">10</text>
<text transform="translate(160.80,1746.40) rotate(-45)" font-size="27.5" text-anchor="end">0</text>
<text transform="translate(231.00,1746.40) rotate(-45)" font-size="27.5" text-anchor="end">1000</text>
<text transform="translate(301.10,1746.40) rotate(-45)" font-size="27.5" text-anchor="end">2000</text>
<text transform="translate(369.80,1746.40) rotate(-45)" font-size="27.5" text-anchor="end">3000</text>
<text transform="translate(439.20,1746.40) rotate(-45)" font-size="27.5" text-anchor="end">4000</text>
<text x="143.5" y="1396.25" font-size="27.8" font-weight="bold">MProfile (0.2–3.0 µm)</text>
<text x="309.00" y="1449.50" font-size="27"><tspan font-style="italic">r</tspan> = –0.61</text>
<text x="309.00" y="1482.00" font-size="27"><tspan font-style="italic">n</tspan> = 81</text>
<text x="309.00" y="1515.50" font-size="27"><tspan font-style="italic">p</tspan> = 2.01 ×</text>
<text x="358.50" y="1548.75" font-size="27">10<tspan font-size="16" dy="-10">–9</tspan></text>
<path d="M445.80,1419.80 C445.40,1423.78 443.60,1433.88 443.40,1443.70 C443.20,1453.52 443.52,1468.48 444.60,1478.70 C445.68,1488.92 448.58,1497.72 449.90,1505.00 C451.22,1512.28 452.37,1516.00 452.50,1522.40 C452.63,1528.80 450.12,1536.98 450.70,1543.40 C451.28,1549.82 452.78,1555.07 456.00,1560.90 C459.22,1566.73 465.05,1572.85 470.00,1578.40 C474.95,1583.95 481.33,1588.95 485.70,1594.20 C490.07,1599.45 494.30,1605.53 496.20,1609.90 C498.10,1614.27 498.27,1616.32 497.10,1620.40 C495.93,1624.48 492.85,1629.73 489.20,1634.40 C485.55,1639.07 478.55,1643.73 475.20,1648.40 C471.85,1653.07 471.13,1657.45 469.10,1662.40 C467.07,1667.35 465.92,1672.72 463.00,1678.10 C460.08,1683.48 453.50,1691.93 451.60,1694.70 L441.50,1694.70 L441.50,1419.80 Z" fill="#009e73"/>
<path d="M445.80,1419.80 C445.40,1423.78 443.60,1433.88 443.40,1443.70 C443.20,1453.52 443.52,1468.48 444.60,1478.70 C445.68,1488.92 448.58,1497.72 449.90,1505.00 C451.22,1512.28 452.37,1516.00 452.50,1522.40 C452.63,1528.80 450.12,1536.98 450.70,1543.40 C451.28,1549.82 452.78,1555.07 456.00,1560.90 C459.22,1566.73 465.05,1572.85 470.00,1578.40 C474.95,1583.95 481.33,1588.95 485.70,1594.20 C490.07,1599.45 494.30,1605.53 496.20,1609.90 C498.10,1614.27 498.27,1616.32 497.10,1620.40 C495.93,1624.48 492.85,1629.73 489.20,1634.40 C485.55,1639.07 478.55,1643.73 475.20,1648.40 C471.85,1653.07 471.13,1657.45 469.10,1662.40 C467.07,1667.35 465.92,1672.72 463.00,1678.10 C460.08,1683.48 453.50,1691.93 451.60,1694.70" fill="none" stroke="#000" stroke-width="2.6"/>
<text transform="translate(450,1582.00) rotate(90)" font-size="27.5">µ = 11</text>
<text transform="translate(25.4,1609.6) rotate(-90)" font-size="33.1">% of eukaryotic plus viral reads [(Reads1 – Reads4)/Reads1]</text>
<text x="285.5" y="1821.25" font-size="33" text-anchor="middle">Depth (m)</text>
<text x="-1" y="494.5" font-size="33">(<tspan font-weight="bold">b</tspan>)</text>
</g>
<g id="pc">
<path d="M611.5,581.25 H626" stroke="#333" stroke-width="2.5"/>
<path d="M611.5,714.75 H626" stroke="#333" stroke-width="2.5"/>
<path d="M611.5,848.00 H626" stroke="#333" stroke-width="2.5"/>
<text x="599" y="594.25" font-size="33" text-anchor="end">20</text>
<text x="599" y="727.75" font-size="33" text-anchor="end">15</text>
<text x="599" y="861.00" font-size="33" text-anchor="end">10</text>
<path d="M680.00,965 V979.7" stroke="#333" stroke-width="2.5"/>
<path d="M768.40,965 V979.7" stroke="#333" stroke-width="2.5"/>
<path d="M857.00,965 V979.7" stroke="#333" stroke-width="2.5"/>
<path d="M680,577 V896.25" stroke="#333" stroke-width="2.2" fill="none"/>
<rect x="646.25" y="720.75" width="67.5" height="100.5" fill="#ffa500" stroke="#333" stroke-width="2.5"/>
<path d="M646.25,771.25 H713.75" stroke="#333" stroke-width="2.2" fill="none"/>
<path d="M768.25,788 V918.25" stroke="#333" stroke-width="2.2" fill="none"/>
<rect x="735" y="813.75" width="67" height="52.5" fill="#00ff00" stroke="#333" stroke-width="2.5"/>
<path d="M735,841.75 H802" stroke="#333" stroke-width="2.2" fill="none"/>
<path d="M856.75,777.5 V946" stroke="#333" stroke-width="2.2" fill="none"/>
<rect x="823.25" y="851.75" width="67.25" height="61.25" fill="#0000ff" stroke="#333" stroke-width="2.5"/>
<path d="M823.25,870.75 H890.5" stroke="#333" stroke-width="2.2" fill="none"/>
<circle cx="665.75" cy="579.5" r="5.5" fill="#000"/>
<g fill="#ffa500" stroke="#000" stroke-width="2.3">
<circle cx="664.50" cy="576.25" r="4.8"/>
<circle cx="681.25" cy="640.00" r="4.8"/>
<circle cx="686.25" cy="688.00" r="4.8"/>
<circle cx="678.75" cy="709.25" r="4.8"/>
<circle cx="673.75" cy="720.00" r="4.8"/>
<circle cx="669.50" cy="723.75" r="4.8"/>
<circle cx="672.50" cy="724.25" r="4.8"/>
<circle cx="691.25" cy="759.25" r="4.8"/>
<circle cx="687.50" cy="770.75" r="4.8"/>
<circle cx="673.25" cy="781.25" r="4.8"/>
<circle cx="663.00" cy="796.25" r="4.8"/>
<circle cx="672.00" cy="804.50" r="4.8"/>
<circle cx="663.75" cy="809.25" r="4.8"/>
<circle cx="695.00" cy="807.00" r="4.8"/>
<circle cx="676.25" cy="831.25" r="4.8"/>
<circle cx="688.75" cy="835.00" r="4.8"/>
<circle cx="690.50" cy="837.50" r="4.8"/>
<circle cx="680.75" cy="855.00" r="4.8"/>
<circle cx="683.25" cy="870.75" r="4.8"/>
<circle cx="672.50" cy="896.25" r="4.8"/>
<circle cx="684.00" cy="758.00" r="4.8"/>
<circle cx="670.00" cy="722.00" r="4.8"/>
</g>
<circle cx="768" cy="692" r="5.5" fill="#000"/><circle cx="779.5" cy="692" r="5.5" fill="#000"/>
<g fill="#00ff00" stroke="#000" stroke-width="2.3">
<circle cx="768.00" cy="692.00" r="4.8"/>
<circle cx="779.50" cy="692.00" r="4.8"/>
<circle cx="760.75" cy="787.50" r="4.8"/>
<circle cx="785.00" cy="799.25" r="4.8"/>
<circle cx="759.50" cy="803.00" r="4.8"/>
<circle cx="772.50" cy="805.50" r="4.8"/>
<circle cx="778.75" cy="803.75" r="4.8"/>
<circle cx="783.75" cy="810.75" r="4.8"/>
<circle cx="760.00" cy="812.50" r="4.8"/>
<circle cx="767.00" cy="815.50" r="4.8"/>
<circle cx="755.00" cy="825.00" r="4.8"/>
<circle cx="752.50" cy="830.00" r="4.8"/>
<circle cx="775.00" cy="827.50" r="4.8"/>
<circle cx="760.00" cy="832.50" r="4.8"/>
<circle cx="753.75" cy="841.25" r="4.8"/>
<circle cx="767.00" cy="842.50" r="4.8"/>
<circle cx="783.75" cy="842.50" r="4.8"/>
<circle cx="778.75" cy="843.75" r="4.8"/>
<circle cx="760.00" cy="846.25" r="4.8"/>
<circle cx="755.00" cy="855.00" r="4.8"/>
<circle cx="771.25" cy="853.00" r="4.8"/>
<circle cx="776.25" cy="850.00" r="4.8"/>
<circle cx="752.50" cy="865.75" r="4.8"/>
<circle cx="772.50" cy="866.25" r="4.8"/>
<circle cx="783.25" cy="865.75" r="4.8"/>
<circle cx="758.25" cy="870.75" r="4.8"/>
<circle cx="766.25" cy="880.00" r="4.8"/>
<circle cx="776.75" cy="900.75" r="4.8"/>
<circle cx="785.50" cy="907.50" r="4.8"/>
<circle cx="759.50" cy="910.00" r="4.8"/>
<circle cx="756.25" cy="918.25" r="4.8"/>
</g>
<circle cx="851.25" cy="777" r="5.5" fill="#000"/>
<g fill="#0000ff" stroke="#000" stroke-width="2.3">
<circle cx="851.25" cy="776.25" r="4.8"/>
<circle cx="848.75" cy="823.75" r="4.8"/>
<circle cx="873.25" cy="831.25" r="4.8"/>
<circle cx="873.75" cy="835.75" r="4.8"/>
<circle cx="867.00" cy="841.75" r="4.8"/>
<circle cx="863.25" cy="845.00" r="4.8"/>
<circle cx="858.75" cy="850.75" r="4.8"/>
<circle cx="843.75" cy="855.00" r="4.8"/>
<circle cx="851.25" cy="857.00" r="4.8"/>
<circle cx="860.00" cy="861.25" r="4.8"/>
<circle cx="841.25" cy="865.75" r="4.8"/>
<circle cx="860.00" cy="866.25" r="4.8"/>
<circle cx="866.25" cy="870.75" r="4.8"/>
<circle cx="870.00" cy="872.00" r="4.8"/>
<circle cx="848.75" cy="883.25" r="4.8"/>
<circle cx="846.25" cy="885.75" r="4.8"/>
<circle cx="869.50" cy="898.00" r="4.8"/>
<circle cx="855.50" cy="901.25" r="4.8"/>
<circle cx="839.50" cy="905.00" r="4.8"/>
<circle cx="860.60" cy="915.40" r="4.8"/>
<circle cx="850.90" cy="919.60" r="4.8"/>
<circle cx="875.50" cy="923.80" r="4.8"/>
<circle cx="841.00" cy="927.10" r="4.8"/>
<circle cx="865.70" cy="927.10" r="4.8"/>
<circle cx="855.60" cy="946.10" r="4.8"/>
<circle cx="858.40" cy="942.00" r="4.8"/>
</g>
<path d="M680.00,752.75 l8,8 l-8,8 l-8,-8 z" fill="#fff" stroke="#000" stroke-width="2"/>
<path d="M768.25,817.75 l8,8 l-8,8 l-8,-8 z" fill="#fff" stroke="#000" stroke-width="2"/>
<path d="M856.75,870.75 l8,8 l-8,8 l-8,-8 z" fill="#fff" stroke="#000" stroke-width="2"/>
<path d="M679.5,562.5 H856.25" stroke="#333" stroke-width="2.2"/>
<path d="M685.5,612.5 H766.75" stroke="#333" stroke-width="2.2"/>
<path d="M765,662.5 H856.25" stroke="#333" stroke-width="2.2"/>
<text x="707" y="551.75" font-size="27">3.77 × 10<tspan font-size="17" dy="-10">–8</tspan></text>
<text x="689.5" y="601.25" font-size="27">0.0023</text>
<text x="767" y="651.25" font-size="27">0.0039</text>
<rect x="626.8" y="513" width="284.2" height="452" fill="none" stroke="#000" stroke-width="2.8"/>
<text x="680.50" y="1014.7" font-size="33" text-anchor="middle">EPI</text>
<text x="680.50" y="1054.7" font-size="33" text-anchor="middle">(23)</text>
<text x="771.50" y="1014.7" font-size="33" text-anchor="middle">MES</text>
<text x="771.50" y="1054.7" font-size="33" text-anchor="middle">(32)</text>
<text x="859.00" y="1014.7" font-size="33" text-anchor="middle">BAT</text>
<text x="859.00" y="1054.7" font-size="33" text-anchor="middle">(26)</text>
<text x="764.5" y="1088.8" font-size="33" text-anchor="middle">Ocean depth zones</text>
<text transform="translate(537,977) rotate(-90)" font-size="33">% eukaryotic plus viral reads</text>
<text x="505" y="494.5" font-size="33">(<tspan font-weight="bold">c</tspan>)</text>
</g>
<g id="pe">
<circle cx="698.5" cy="1176.3" r="71" fill="#fff" stroke="#000" stroke-width="2.6"/>
<path d="M698.5,1176.3 L769.5,1176.3 A71,71 0 0 1 740.23,1233.74 Z" fill="#add8e6" stroke="#000" stroke-width="2.6" stroke-linejoin="miter"/>
<text x="667" y="1165.7" font-size="22.2">85%</text>
<text x="721.5" y="1200" font-size="22.2">15%</text>
<text x="774.5" y="1159.5" font-size="21.9">Proportion</text>
<text x="774.5" y="1186.6" font-size="21.9">of analysed</text>
<text x="774.5" y="1213" font-size="21.9">metagenomes</text>
<text x="505" y="1130.3" font-size="33">(<tspan font-weight="bold">e</tspan>)</text>
<path d="M765.3,1259 V1707" stroke="#999" stroke-width="1.3" stroke-dasharray="7,6"/>
<path d="M765.3,1412.8 H781.5 M817,1412.8 H869" stroke="#333" stroke-width="2.2" fill="none"/>
<rect x="781.7" y="1343.8" width="35.3" height="138.5" fill="#fff" stroke="#333" stroke-width="2.3"/>
<path d="M796.3,1343.8 V1482.3" stroke="#333" stroke-width="2.2" fill="none"/>
<g fill="#bebebe" stroke="#000" stroke-width="2.7">
<circle cx="766.09" cy="1387.53" r="4.3"/>
<circle cx="767.70" cy="1393.41" r="4.3"/>
<circle cx="765.59" cy="1399.60" r="4.3"/>
<circle cx="772.94" cy="1379.06" r="4.3"/>
<circle cx="765.01" cy="1401.97" r="4.3"/>
<circle cx="774.02" cy="1376.27" r="4.3"/>
<circle cx="773.09" cy="1380.35" r="4.3"/>
<circle cx="773.47" cy="1381.34" r="4.3"/>
<circle cx="772.07" cy="1385.66" r="4.3"/>
<circle cx="767.89" cy="1397.60" r="4.3"/>
<circle cx="769.15" cy="1395.40" r="4.3"/>
<circle cx="775.26" cy="1378.86" r="4.3"/>
<circle cx="770.98" cy="1392.72" r="4.3"/>
<circle cx="769.67" cy="1396.80" r="4.3"/>
<circle cx="770.45" cy="1397.13" r="4.3"/>
<circle cx="768.50" cy="1403.43" r="4.3"/>
<circle cx="765.29" cy="1412.65" r="4.3"/>
<circle cx="767.25" cy="1407.31" r="4.3"/>
<circle cx="775.76" cy="1383.95" r="4.3"/>
<circle cx="774.25" cy="1388.99" r="4.3"/>
<circle cx="776.86" cy="1384.43" r="4.3"/>
<circle cx="776.03" cy="1387.73" r="4.3"/>
<circle cx="770.50" cy="1405.36" r="4.3"/>
<circle cx="771.35" cy="1404.17" r="4.3"/>
<circle cx="769.52" cy="1410.06" r="4.3"/>
<circle cx="778.50" cy="1389.06" r="4.3"/>
<circle cx="778.54" cy="1391.10" r="4.3"/>
<circle cx="766.74" cy="1425.17" r="4.3"/>
<circle cx="776.41" cy="1400.60" r="4.3"/>
<circle cx="774.73" cy="1405.51" r="4.3"/>
<circle cx="783.50" cy="1381.05" r="4.3"/>
<circle cx="765.78" cy="1431.69" r="4.3"/>
<circle cx="766.31" cy="1432.13" r="4.3"/>
<circle cx="782.89" cy="1385.97" r="4.3"/>
<circle cx="769.26" cy="1426.26" r="4.3"/>
<circle cx="772.27" cy="1419.16" r="4.3"/>
<circle cx="773.63" cy="1416.21" r="4.3"/>
<circle cx="767.42" cy="1434.80" r="4.3"/>
<circle cx="783.17" cy="1391.21" r="4.3"/>
<circle cx="766.96" cy="1437.59" r="4.3"/>
<circle cx="784.63" cy="1388.34" r="4.3"/>
<circle cx="771.85" cy="1426.70" r="4.3"/>
<circle cx="775.58" cy="1416.86" r="4.3"/>
<circle cx="777.79" cy="1411.32" r="4.3"/>
<circle cx="774.88" cy="1420.89" r="4.3"/>
<circle cx="768.68" cy="1439.51" r="4.3"/>
<circle cx="772.69" cy="1429.18" r="4.3"/>
<circle cx="783.94" cy="1397.54" r="4.3"/>
<circle cx="791.37" cy="1377.04" r="4.3"/>
<circle cx="779.67" cy="1410.89" r="4.3"/>
<circle cx="782.46" cy="1403.06" r="4.3"/>
<circle cx="768.12" cy="1444.12" r="4.3"/>
<circle cx="771.65" cy="1434.40" r="4.3"/>
<circle cx="780.96" cy="1409.74" r="4.3"/>
<circle cx="774.53" cy="1428.63" r="4.3"/>
<circle cx="789.69" cy="1385.51" r="4.3"/>
<circle cx="779.16" cy="1415.84" r="4.3"/>
<circle cx="786.88" cy="1394.53" r="4.3"/>
<circle cx="788.35" cy="1390.56" r="4.3"/>
<circle cx="792.36" cy="1379.17" r="4.3"/>
<circle cx="770.19" cy="1443.25" r="4.3"/>
<circle cx="788.09" cy="1392.67" r="4.3"/>
<circle cx="786.32" cy="1398.21" r="4.3"/>
<circle cx="777.44" cy="1423.61" r="4.3"/>
<circle cx="782.00" cy="1410.68" r="4.3"/>
<circle cx="777.48" cy="1423.97" r="4.3"/>
<circle cx="778.85" cy="1421.21" r="4.3"/>
<circle cx="781.86" cy="1412.73" r="4.3"/>
<circle cx="785.38" cy="1402.73" r="4.3"/>
<circle cx="792.82" cy="1381.66" r="4.3"/>
<circle cx="788.89" cy="1393.38" r="4.3"/>
<circle cx="780.34" cy="1417.84" r="4.3"/>
<circle cx="787.26" cy="1399.48" r="4.3"/>
<circle cx="770.87" cy="1446.74" r="4.3"/>
<circle cx="782.24" cy="1415.35" r="4.3"/>
<circle cx="793.49" cy="1384.63" r="4.3"/>
<circle cx="795.75" cy="1378.71" r="4.3"/>
<circle cx="795.83" cy="1378.62" r="4.3"/>
<circle cx="781.18" cy="1420.60" r="4.3"/>
<circle cx="789.24" cy="1397.94" r="4.3"/>
<circle cx="776.96" cy="1436.45" r="4.3"/>
<circle cx="794.71" cy="1387.22" r="4.3"/>
<circle cx="784.17" cy="1419.95" r="4.3"/>
<circle cx="788.66" cy="1408.23" r="4.3"/>
<circle cx="779.88" cy="1433.66" r="4.3"/>
<circle cx="784.83" cy="1422.57" r="4.3"/>
<circle cx="801.14" cy="1376.27" r="4.3"/>
<circle cx="776.46" cy="1447.68" r="4.3"/>
<circle cx="798.09" cy="1386.58" r="4.3"/>
<circle cx="789.10" cy="1412.88" r="4.3"/>
<circle cx="778.06" cy="1445.45" r="4.3"/>
<circle cx="780.22" cy="1439.65" r="4.3"/>
<circle cx="791.32" cy="1408.97" r="4.3"/>
<circle cx="780.62" cy="1440.82" r="4.3"/>
<circle cx="801.71" cy="1381.30" r="4.3"/>
<circle cx="784.32" cy="1431.11" r="4.3"/>
<circle cx="785.20" cy="1429.28" r="4.3"/>
<circle cx="786.69" cy="1426.08" r="4.3"/>
<circle cx="794.10" cy="1405.22" r="4.3"/>
<circle cx="783.35" cy="1436.68" r="4.3"/>
<circle cx="793.96" cy="1406.98" r="4.3"/>
<circle cx="781.42" cy="1442.84" r="4.3"/>
<circle cx="792.64" cy="1410.96" r="4.3"/>
<circle cx="785.82" cy="1430.48" r="4.3"/>
<circle cx="779.44" cy="1449.93" r="4.3"/>
<circle cx="789.83" cy="1421.10" r="4.3"/>
<circle cx="791.96" cy="1417.73" r="4.3"/>
<circle cx="793.10" cy="1417.02" r="4.3"/>
<circle cx="805.06" cy="1383.55" r="4.3"/>
<circle cx="791.05" cy="1425.70" r="4.3"/>
<circle cx="802.19" cy="1394.45" r="4.3"/>
<circle cx="805.88" cy="1384.61" r="4.3"/>
<circle cx="791.76" cy="1425.06" r="4.3"/>
<circle cx="790.65" cy="1428.69" r="4.3"/>
<circle cx="798.26" cy="1407.53" r="4.3"/>
<circle cx="786.54" cy="1441.20" r="4.3"/>
<circle cx="797.15" cy="1411.43" r="4.3"/>
<circle cx="787.62" cy="1439.09" r="4.3"/>
<circle cx="802.86" cy="1396.74" r="4.3"/>
<circle cx="800.20" cy="1406.57" r="4.3"/>
<circle cx="785.84" cy="1447.72" r="4.3"/>
<circle cx="801.44" cy="1403.61" r="4.3"/>
<circle cx="790.45" cy="1435.12" r="4.3"/>
<circle cx="787.70" cy="1443.85" r="4.3"/>
<circle cx="800.71" cy="1408.67" r="4.3"/>
<circle cx="806.97" cy="1392.82" r="4.3"/>
<circle cx="804.45" cy="1400.74" r="4.3"/>
<circle cx="793.34" cy="1433.73" r="4.3"/>
<circle cx="810.98" cy="1384.06" r="4.3"/>
<circle cx="808.71" cy="1391.13" r="4.3"/>
<circle cx="799.78" cy="1416.83" r="4.3"/>
<circle cx="790.21" cy="1446.29" r="4.3"/>
<circle cx="802.57" cy="1411.04" r="4.3"/>
<circle cx="796.94" cy="1429.34" r="4.3"/>
<circle cx="794.77" cy="1435.67" r="4.3"/>
<circle cx="807.90" cy="1398.57" r="4.3"/>
<circle cx="806.30" cy="1403.79" r="4.3"/>
<circle cx="798.96" cy="1426.51" r="4.3"/>
<circle cx="795.40" cy="1437.29" r="4.3"/>
<circle cx="797.52" cy="1432.01" r="4.3"/>
<circle cx="816.18" cy="1379.15" r="4.3"/>
<circle cx="810.61" cy="1395.16" r="4.3"/>
<circle cx="799.31" cy="1427.81" r="4.3"/>
<circle cx="794.31" cy="1443.31" r="4.3"/>
<circle cx="813.67" cy="1389.25" r="4.3"/>
<circle cx="814.26" cy="1388.03" r="4.3"/>
<circle cx="809.38" cy="1402.63" r="4.3"/>
<circle cx="806.35" cy="1413.05" r="4.3"/>
<circle cx="795.16" cy="1448.19" r="4.3"/>
<circle cx="815.81" cy="1392.62" r="4.3"/>
<circle cx="796.35" cy="1448.57" r="4.3"/>
<circle cx="816.94" cy="1392.47" r="4.3"/>
<circle cx="808.51" cy="1419.28" r="4.3"/>
<circle cx="819.48" cy="1388.11" r="4.3"/>
<circle cx="804.20" cy="1433.46" r="4.3"/>
<circle cx="798.76" cy="1449.84" r="4.3"/>
<circle cx="814.86" cy="1406.05" r="4.3"/>
<circle cx="823.77" cy="1381.24" r="4.3"/>
<circle cx="812.21" cy="1415.84" r="4.3"/>
<circle cx="809.46" cy="1424.50" r="4.3"/>
<circle cx="811.80" cy="1418.33" r="4.3"/>
<circle cx="803.78" cy="1441.56" r="4.3"/>
<circle cx="805.26" cy="1438.92" r="4.3"/>
<circle cx="803.43" cy="1445.10" r="4.3"/>
<circle cx="813.99" cy="1417.32" r="4.3"/>
<circle cx="819.52" cy="1401.81" r="4.3"/>
<circle cx="812.95" cy="1420.74" r="4.3"/>
<circle cx="820.97" cy="1399.09" r="4.3"/>
<circle cx="811.56" cy="1427.36" r="4.3"/>
<circle cx="807.63" cy="1438.71" r="4.3"/>
<circle cx="825.01" cy="1390.05" r="4.3"/>
<circle cx="810.46" cy="1433.21" r="4.3"/>
<circle cx="807.12" cy="1444.21" r="4.3"/>
<circle cx="821.62" cy="1404.38" r="4.3"/>
<circle cx="815.57" cy="1422.37" r="4.3"/>
<circle cx="820.80" cy="1411.00" r="4.3"/>
<circle cx="810.09" cy="1442.07" r="4.3"/>
<circle cx="832.88" cy="1378.87" r="4.3"/>
<circle cx="831.53" cy="1383.83" r="4.3"/>
<circle cx="812.91" cy="1437.68" r="4.3"/>
<circle cx="818.01" cy="1423.17" r="4.3"/>
<circle cx="814.63" cy="1435.55" r="4.3"/>
<circle cx="828.48" cy="1396.32" r="4.3"/>
<circle cx="824.26" cy="1416.62" r="4.3"/>
<circle cx="816.48" cy="1446.15" r="4.3"/>
<circle cx="822.51" cy="1429.72" r="4.3"/>
<circle cx="825.86" cy="1421.23" r="4.3"/>
<circle cx="832.19" cy="1408.16" r="4.3"/>
<circle cx="829.84" cy="1414.87" r="4.3"/>
<circle cx="818.21" cy="1448.91" r="4.3"/>
<circle cx="827.76" cy="1426.78" r="4.3"/>
<circle cx="822.98" cy="1440.98" r="4.3"/>
<circle cx="826.63" cy="1434.64" r="4.3"/>
<circle cx="829.44" cy="1431.81" r="4.3"/>
<circle cx="827.04" cy="1444.40" r="4.3"/>
<circle cx="830.59" cy="1439.26" r="4.3"/>
<circle cx="845.10" cy="1379.70" r="4.3"/>
<circle cx="863.50" cy="1384.70" r="4.3"/>
<circle cx="856.80" cy="1401.70" r="4.3"/>
<circle cx="842.10" cy="1411.00" r="4.3"/>
<circle cx="869.30" cy="1412.80" r="4.3"/>
<circle cx="868.90" cy="1420.80" r="4.3"/>
<circle cx="859.50" cy="1425.00" r="4.3"/>
<circle cx="865.50" cy="1425.50" r="4.3"/>
<circle cx="853.50" cy="1434.80" r="4.3"/>
<circle cx="844.80" cy="1433.50" r="4.3"/>
<circle cx="848.20" cy="1440.10" r="4.3"/>
<circle cx="844.80" cy="1441.50" r="4.3"/>
<circle cx="856.20" cy="1447.90" r="4.3"/>
<circle cx="899.60" cy="1412.80" r="4.3"/>
<circle cx="899.60" cy="1434.10" r="4.3"/>
<circle cx="840.10" cy="1425.50" r="4.3"/>
<circle cx="836.10" cy="1419.40" r="4.3"/>
<circle cx="832.10" cy="1429.20" r="4.3"/>
<circle cx="834.40" cy="1438.80" r="4.3"/>
<circle cx="825.50" cy="1436.10" r="4.3"/>
<circle cx="825.10" cy="1445.50" r="4.3"/>
<circle cx="814.50" cy="1420.10" r="4.3"/>
<circle cx="822.50" cy="1386.10" r="4.3"/>
<circle cx="832.10" cy="1383.40" r="4.3"/>
<circle cx="833.10" cy="1392.10" r="4.3"/>
<circle cx="832.10" cy="1399.40" r="4.3"/>
<circle cx="826.50" cy="1376.70" r="4.3"/>
<circle cx="828.80" cy="1407.40" r="4.3"/>
</g>
<path d="M800.30,1405.50 l7.5,7.5 l-7.5,7.5 l-7.5,-7.5 z" fill="#fff" stroke="#000" stroke-width="2"/>
<text x="648" y="1421.2" font-size="27"><tspan font-style="italic">n</tspan> = 220</text>
<path d="M723.6,1597.4 H738.3 M760.2,1597.4 H765" stroke="#333" stroke-width="2.2" fill="none"/>
<rect x="738.5" y="1528.3" width="21.7" height="138.5" fill="#add8e6" stroke="#1a1a1a" stroke-width="2.8"/>
<path d="M748.9,1528.3 V1666.8" stroke="#333" stroke-width="2.2" fill="none"/>
<g fill="#bebebe" stroke="#000" stroke-width="2.7">
<circle cx="700.70" cy="1563.00" r="4.3"/>
<circle cx="723.00" cy="1566.40" r="4.3"/>
<circle cx="727.50" cy="1574.60" r="4.3"/>
<circle cx="739.30" cy="1564.00" r="4.3"/>
<circle cx="758.80" cy="1562.20" r="4.3"/>
<circle cx="763.40" cy="1569.70" r="4.3"/>
<circle cx="738.30" cy="1574.60" r="4.3"/>
<circle cx="743.20" cy="1573.00" r="4.3"/>
<circle cx="749.70" cy="1572.30" r="4.3"/>
<circle cx="757.90" cy="1581.00" r="4.3"/>
<circle cx="759.50" cy="1585.30" r="4.3"/>
<circle cx="743.20" cy="1587.00" r="4.3"/>
<circle cx="761.00" cy="1590.00" r="4.3"/>
<circle cx="736.60" cy="1591.00" r="4.3"/>
<circle cx="765.00" cy="1596.40" r="4.3"/>
<circle cx="757.90" cy="1596.40" r="4.3"/>
<circle cx="733.40" cy="1596.40" r="4.3"/>
<circle cx="672.00" cy="1598.00" r="4.3"/>
<circle cx="688.30" cy="1598.00" r="4.3"/>
<circle cx="700.70" cy="1598.00" r="4.3"/>
<circle cx="672.00" cy="1611.00" r="4.3"/>
<circle cx="744.80" cy="1607.20" r="4.3"/>
<circle cx="762.10" cy="1610.50" r="4.3"/>
<circle cx="764.40" cy="1618.00" r="4.3"/>
<circle cx="761.00" cy="1615.40" r="4.3"/>
<circle cx="728.50" cy="1623.50" r="4.3"/>
<circle cx="749.70" cy="1622.60" r="4.3"/>
<circle cx="687.70" cy="1626.80" r="4.3"/>
<circle cx="739.30" cy="1630.70" r="4.3"/>
<circle cx="744.80" cy="1635.00" r="4.3"/>
<circle cx="748.00" cy="1634.30" r="4.3"/>
<circle cx="752.00" cy="1578.00" r="4.3"/>
<circle cx="754.00" cy="1592.00" r="4.3"/>
<circle cx="748.00" cy="1600.00" r="4.3"/>
<circle cx="758.00" cy="1604.00" r="4.3"/>
<circle cx="741.00" cy="1581.00" r="4.3"/>
<circle cx="756.00" cy="1570.00" r="4.3"/>
<circle cx="750.00" cy="1588.00" r="4.3"/>
<circle cx="762.00" cy="1600.00" r="4.3"/>
</g>
<path d="M744.20,1590.50 l7.5,7.5 l-7.5,7.5 l-7.5,-7.5 z" fill="#fff" stroke="#000" stroke-width="2"/>
<text x="793.5" y="1600.7" font-size="27"><tspan font-style="italic">n</tspan> = 39</text>
<rect x="625.7" y="1258" width="285.6" height="450.2" fill="none" stroke="#000" stroke-width="2.6"/>
<path d="M613.3,1412.00 H625.7" stroke="#222" stroke-width="2.8"/>
<path d="M613.3,1597.40 H625.7" stroke="#222" stroke-width="2.8"/>
<text x="609.8" y="1422" font-size="33" text-anchor="end">Lower</text>
<text x="609.8" y="1607.4" font-size="33" text-anchor="end">Higher</text>
<path d="M625.70,1708 V1723" stroke="#333" stroke-width="2.5"/>
<text x="623.10" y="1759" font-size="33" text-anchor="middle">20</text>
<path d="M695.80,1708 V1723" stroke="#333" stroke-width="2.5"/>
<text x="697.10" y="1759" font-size="33" text-anchor="middle">10</text>
<path d="M765.40,1708 V1723" stroke="#333" stroke-width="2.5"/>
<text x="768.00" y="1759" font-size="33" text-anchor="middle">0</text>
<path d="M835.60,1708 V1723" stroke="#333" stroke-width="2.5"/>
<text x="834.60" y="1759" font-size="33" text-anchor="middle">–10</text>
<path d="M905.70,1708 V1723" stroke="#333" stroke-width="2.5"/>
<text x="907.20" y="1759" font-size="33" text-anchor="middle">–20</text>
<text x="764.4" y="1822.6" font-size="33" text-anchor="middle">% change in AGS</text>
</g>
<g id="pd">
<path d="M1057.3,529.25 H1072.25" stroke="#2b2b2b" stroke-width="2.7"/>
<text x="1045" y="542.05" font-size="33" text-anchor="end">3.5</text>
<path d="M1057.3,619.25 H1072.25" stroke="#2b2b2b" stroke-width="2.7"/>
<text x="1045" y="632.05" font-size="33" text-anchor="end">3.0</text>
<path d="M1057.3,708.75 H1072.25" stroke="#2b2b2b" stroke-width="2.7"/>
<text x="1045" y="721.55" font-size="33" text-anchor="end">2.5</text>
<path d="M1057.3,798.00 H1072.25" stroke="#2b2b2b" stroke-width="2.7"/>
<text x="1045" y="810.80" font-size="33" text-anchor="end">2.0</text>
<path d="M1147.25,846.25 V861.55" stroke="#333" stroke-width="2.4"/>
<path d="M1271.75,846.25 V861.55" stroke="#333" stroke-width="2.4"/>
<path d="M1147.25,597.30 V806.75" stroke="#333" stroke-width="2.2" fill="none"/>
<path d="M1271.75,597.90 V830.75" stroke="#333" stroke-width="2.2" fill="none"/>
<rect x="1100.25" y="688.25" width="94.5" height="62.50" fill="#bebebe" stroke="#333" stroke-width="2.5"/>
<path d="M1100.25,733.00 H1194.75" stroke="#333" stroke-width="2.2" fill="none"/>
<rect x="1224.75" y="700.00" width="94.25" height="79.25" fill="#ffff00" stroke="#333" stroke-width="2.5"/>
<path d="M1224.75,748.00 H1319" stroke="#333" stroke-width="2.2" fill="none"/>
<g fill="#bebebe" stroke="#000" stroke-width="2.3">
<circle cx="1125.50" cy="508.75" r="4.75"/>
<circle cx="1146.75" cy="508.75" r="4.75"/>
<circle cx="1151.75" cy="552.50" r="4.75"/>
<circle cx="1144.25" cy="557.00" r="4.75"/>
<circle cx="1147.25" cy="572.00" r="4.75"/>
<circle cx="1159.25" cy="572.50" r="4.75"/>
<circle cx="1147.25" cy="587.00" r="4.75"/>
<circle cx="1149.25" cy="587.50" r="4.75"/>
<circle cx="1164.25" cy="598.00" r="4.75"/>
<circle cx="1159.00" cy="613.00" r="4.75"/>
<circle cx="1125.50" cy="622.00" r="4.75"/>
<circle cx="1149.25" cy="624.50" r="4.75"/>
<circle cx="1162.75" cy="640.50" r="4.75"/>
<circle cx="1167.25" cy="647.50" r="4.75"/>
<circle cx="1147.25" cy="647.50" r="4.75"/>
<circle cx="1149.25" cy="660.75" r="4.75"/>
<circle cx="1161.00" cy="667.50" r="4.75"/>
<circle cx="1165.50" cy="669.50" r="4.75"/>
<circle cx="1156.50" cy="675.00" r="4.75"/>
<circle cx="1171.00" cy="676.25" r="4.75"/>
<circle cx="1144.75" cy="677.50" r="4.75"/>
<circle cx="1164.00" cy="678.75" r="4.75"/>
<circle cx="1123.00" cy="686.75" r="4.75"/>
<circle cx="1134.25" cy="689.50" r="4.75"/>
<circle cx="1141.50" cy="687.00" r="4.75"/>
<circle cx="1161.00" cy="692.00" r="4.75"/>
<circle cx="1122.25" cy="697.50" r="4.75"/>
<circle cx="1153.50" cy="698.00" r="4.75"/>
<circle cx="1163.50" cy="700.00" r="4.75"/>
<circle cx="1171.00" cy="701.25" r="4.75"/>
<circle cx="1127.25" cy="701.25" r="4.75"/>
<circle cx="1130.50" cy="707.00" r="4.75"/>
<circle cx="1122.25" cy="708.75" r="4.75"/>
<circle cx="1154.75" cy="719.50" r="4.75"/>
<circle cx="1130.50" cy="724.50" r="4.75"/>
<circle cx="1138.00" cy="724.50" r="4.75"/>
<circle cx="1146.00" cy="725.50" r="4.75"/>
<circle cx="1162.75" cy="725.50" r="4.75"/>
<circle cx="1148.00" cy="731.25" r="4.75"/>
<circle cx="1133.50" cy="732.50" r="4.75"/>
<circle cx="1128.50" cy="735.00" r="4.75"/>
<circle cx="1135.25" cy="737.00" r="4.75"/>
<circle cx="1141.00" cy="735.00" r="4.75"/>
<circle cx="1158.50" cy="738.75" r="4.75"/>
<circle cx="1127.25" cy="744.50" r="4.75"/>
<circle cx="1147.25" cy="743.75" r="4.75"/>
<circle cx="1154.75" cy="744.50" r="4.75"/>
<circle cx="1161.00" cy="746.25" r="4.75"/>
<circle cx="1169.25" cy="747.00" r="4.75"/>
<circle cx="1123.00" cy="748.75" r="4.75"/>
<circle cx="1156.00" cy="751.25" r="4.75"/>
<circle cx="1166.00" cy="751.25" r="4.75"/>
<circle cx="1121.00" cy="756.25" r="4.75"/>
<circle cx="1125.50" cy="757.50" r="4.75"/>
<circle cx="1143.50" cy="758.75" r="4.75"/>
<circle cx="1159.75" cy="758.75" r="4.75"/>
<circle cx="1163.50" cy="760.00" r="4.75"/>
<circle cx="1124.75" cy="766.25" r="4.75"/>
<circle cx="1154.75" cy="766.25" r="4.75"/>
<circle cx="1158.00" cy="769.50" r="4.75"/>
<circle cx="1125.50" cy="775.00" r="4.75"/>
<circle cx="1139.75" cy="782.00" r="4.75"/>
<circle cx="1144.00" cy="780.00" r="4.75"/>
<circle cx="1125.50" cy="785.00" r="4.75"/>
<circle cx="1125.50" cy="790.00" r="4.75"/>
<circle cx="1159.75" cy="794.50" r="4.75"/>
<circle cx="1124.75" cy="805.50" r="4.75"/>
<circle cx="1136.00" cy="807.50" r="4.75"/>
<circle cx="1140.00" cy="741.00" r="4.75"/>
<circle cx="1151.00" cy="737.00" r="4.75"/>
<circle cx="1133.00" cy="746.00" r="4.75"/>
<circle cx="1144.00" cy="750.00" r="4.75"/>
<circle cx="1166.00" cy="741.00" r="4.75"/>
<circle cx="1152.00" cy="754.00" r="4.75"/>
<circle cx="1137.00" cy="754.00" r="4.75"/>
<circle cx="1161.00" cy="753.00" r="4.75"/>
</g>
<g fill="#ffff00" stroke="#000" stroke-width="2.3">
<circle cx="1271.75" cy="538.75" r="4.75"/>
<circle cx="1285.25" cy="538.25" r="4.75"/>
<circle cx="1271.75" cy="551.25" r="4.75"/>
<circle cx="1289.00" cy="551.25" r="4.75"/>
<circle cx="1259.00" cy="598.00" r="4.75"/>
<circle cx="1247.25" cy="610.00" r="4.75"/>
<circle cx="1273.50" cy="613.00" r="4.75"/>
<circle cx="1287.25" cy="624.50" r="4.75"/>
<circle cx="1285.25" cy="633.75" r="4.75"/>
<circle cx="1295.50" cy="640.75" r="4.75"/>
<circle cx="1263.50" cy="635.50" r="4.75"/>
<circle cx="1253.50" cy="646.25" r="4.75"/>
<circle cx="1263.50" cy="647.50" r="4.75"/>
<circle cx="1267.75" cy="661.25" r="4.75"/>
<circle cx="1259.75" cy="675.75" r="4.75"/>
<circle cx="1264.75" cy="675.75" r="4.75"/>
<circle cx="1294.25" cy="680.00" r="4.75"/>
<circle cx="1269.75" cy="684.25" r="4.75"/>
<circle cx="1248.00" cy="688.00" r="4.75"/>
<circle cx="1285.25" cy="688.75" r="4.75"/>
<circle cx="1254.00" cy="698.00" r="4.75"/>
<circle cx="1263.50" cy="697.50" r="4.75"/>
<circle cx="1269.75" cy="699.25" r="4.75"/>
<circle cx="1295.25" cy="700.75" r="4.75"/>
<circle cx="1247.25" cy="701.25" r="4.75"/>
<circle cx="1251.00" cy="707.50" r="4.75"/>
<circle cx="1265.50" cy="705.75" r="4.75"/>
<circle cx="1269.75" cy="713.75" r="4.75"/>
<circle cx="1251.50" cy="718.00" r="4.75"/>
<circle cx="1271.75" cy="719.25" r="4.75"/>
<circle cx="1249.75" cy="727.00" r="4.75"/>
<circle cx="1283.50" cy="728.00" r="4.75"/>
<circle cx="1289.75" cy="735.00" r="4.75"/>
<circle cx="1253.00" cy="739.50" r="4.75"/>
<circle cx="1278.50" cy="741.25" r="4.75"/>
<circle cx="1283.50" cy="745.75" r="4.75"/>
<circle cx="1267.75" cy="747.50" r="4.75"/>
<circle cx="1247.25" cy="746.25" r="4.75"/>
<circle cx="1292.25" cy="748.75" r="4.75"/>
<circle cx="1249.75" cy="752.00" r="4.75"/>
<circle cx="1261.00" cy="752.00" r="4.75"/>
<circle cx="1278.50" cy="753.00" r="4.75"/>
<circle cx="1288.50" cy="755.00" r="4.75"/>
<circle cx="1268.50" cy="756.25" r="4.75"/>
<circle cx="1293.50" cy="763.25" r="4.75"/>
<circle cx="1263.50" cy="764.50" r="4.75"/>
<circle cx="1247.25" cy="768.75" r="4.75"/>
<circle cx="1282.75" cy="768.75" r="4.75"/>
<circle cx="1262.25" cy="773.75" r="4.75"/>
<circle cx="1271.00" cy="777.50" r="4.75"/>
<circle cx="1256.00" cy="781.75" r="4.75"/>
<circle cx="1278.50" cy="784.50" r="4.75"/>
<circle cx="1246.50" cy="786.25" r="4.75"/>
<circle cx="1290.50" cy="785.75" r="4.75"/>
<circle cx="1286.00" cy="789.50" r="4.75"/>
<circle cx="1293.50" cy="796.25" r="4.75"/>
<circle cx="1274.25" cy="797.50" r="4.75"/>
<circle cx="1251.50" cy="799.25" r="4.75"/>
<circle cx="1289.25" cy="802.00" r="4.75"/>
<circle cx="1253.50" cy="812.50" r="4.75"/>
<circle cx="1248.50" cy="815.00" r="4.75"/>
<circle cx="1282.25" cy="813.00" r="4.75"/>
<circle cx="1287.25" cy="813.00" r="4.75"/>
<circle cx="1296.75" cy="813.75" r="4.75"/>
<circle cx="1249.75" cy="830.75" r="4.75"/>
<circle cx="1258.00" cy="760.00" r="4.75"/>
<circle cx="1274.00" cy="766.00" r="4.75"/>
<circle cx="1284.00" cy="775.00" r="4.75"/>
<circle cx="1266.00" cy="785.00" r="4.75"/>
<circle cx="1280.00" cy="792.00" r="4.75"/>
<circle cx="1292.00" cy="777.00" r="4.75"/>
<circle cx="1257.00" cy="770.00" r="4.75"/>
<circle cx="1275.00" cy="744.00" r="4.75"/>
</g>
<path d="M1147.25,706.25 l7.5,7.5 l-7.5,7.5 l-7.5,-7.5 z" fill="#fff" stroke="#000" stroke-width="2"/>
<path d="M1271.75,726.25 l7.5,7.5 l-7.5,7.5 l-7.5,-7.5 z" fill="#fff" stroke="#000" stroke-width="2"/>
<rect x="1072.25" y="493.00" width="273.75" height="353.25" fill="none" stroke="#000" stroke-width="2.6"/>
<text x="1081.50" y="485.00" font-size="27.6"><tspan font-weight="bold">ALOHA</tspan> (<tspan font-style="italic">n</tspan> = 83)</text>
<text x="1188.50" y="521.25" font-size="27.3"><tspan font-style="italic">p</tspan> = 0.00018</text>
<path d="M1057.3,972.00 H1072.25" stroke="#2b2b2b" stroke-width="2.7"/>
<text x="1045" y="984.80" font-size="33" text-anchor="end">3.5</text>
<path d="M1057.3,1057.00 H1072.25" stroke="#2b2b2b" stroke-width="2.7"/>
<text x="1045" y="1069.80" font-size="33" text-anchor="end">3.0</text>
<path d="M1057.3,1142.00 H1072.25" stroke="#2b2b2b" stroke-width="2.7"/>
<text x="1045" y="1154.80" font-size="33" text-anchor="end">2.5</text>
<path d="M1057.3,1227.50 H1072.25" stroke="#2b2b2b" stroke-width="2.7"/>
<text x="1045" y="1240.30" font-size="33" text-anchor="end">2.0</text>
<path d="M1147.25,1280.00 V1295.30" stroke="#333" stroke-width="2.4"/>
<path d="M1271.75,1280.00 V1295.30" stroke="#333" stroke-width="2.4"/>
<path d="M1147.25,1011.75 V1240.00" stroke="#333" stroke-width="2.2" fill="none"/>
<path d="M1271.75,1046.25 V1264.50" stroke="#333" stroke-width="2.2" fill="none"/>
<rect x="1100.25" y="1119.50" width="94.5" height="82.25" fill="#bebebe" stroke="#333" stroke-width="2.5"/>
<path d="M1100.25,1167.00 H1194.75" stroke="#333" stroke-width="2.2" fill="none"/>
<rect x="1224.75" y="1140.75" width="94.25" height="84.25" fill="#ffff00" stroke="#333" stroke-width="2.5"/>
<path d="M1224.75,1183.75 H1319" stroke="#333" stroke-width="2.2" fill="none"/>
<g fill="#bebebe" stroke="#000" stroke-width="2.3">
<circle cx="1130.50" cy="942.50" r="4.75"/>
<circle cx="1141.00" cy="942.50" r="4.75"/>
<circle cx="1131.00" cy="1011.75" r="4.75"/>
<circle cx="1160.25" cy="1062.00" r="4.75"/>
<circle cx="1126.75" cy="1080.50" r="4.75"/>
<circle cx="1123.50" cy="1100.00" r="4.75"/>
<circle cx="1136.00" cy="1105.50" r="4.75"/>
<circle cx="1152.75" cy="1104.00" r="4.75"/>
<circle cx="1153.50" cy="1108.75" r="4.75"/>
<circle cx="1142.25" cy="1116.75" r="4.75"/>
<circle cx="1159.00" cy="1118.00" r="4.75"/>
<circle cx="1167.25" cy="1119.50" r="4.75"/>
<circle cx="1162.25" cy="1125.75" r="4.75"/>
<circle cx="1139.25" cy="1126.25" r="4.75"/>
<circle cx="1132.25" cy="1132.50" r="4.75"/>
<circle cx="1133.00" cy="1133.50" r="4.75"/>
<circle cx="1159.00" cy="1148.75" r="4.75"/>
<circle cx="1123.50" cy="1154.50" r="4.75"/>
<circle cx="1160.25" cy="1154.25" r="4.75"/>
<circle cx="1122.25" cy="1162.50" r="4.75"/>
<circle cx="1159.00" cy="1161.75" r="4.75"/>
<circle cx="1170.25" cy="1165.75" r="4.75"/>
<circle cx="1126.00" cy="1169.25" r="4.75"/>
<circle cx="1161.75" cy="1168.25" r="4.75"/>
<circle cx="1171.75" cy="1171.25" r="4.75"/>
<circle cx="1164.25" cy="1177.00" r="4.75"/>
<circle cx="1146.50" cy="1187.00" r="4.75"/>
<circle cx="1143.50" cy="1188.75" r="4.75"/>
<circle cx="1126.00" cy="1193.75" r="4.75"/>
<circle cx="1132.75" cy="1196.25" r="4.75"/>
<circle cx="1161.50" cy="1194.50" r="4.75"/>
<circle cx="1136.75" cy="1201.75" r="4.75"/>
<circle cx="1169.75" cy="1199.25" r="4.75"/>
<circle cx="1147.25" cy="1208.25" r="4.75"/>
<circle cx="1154.75" cy="1210.00" r="4.75"/>
<circle cx="1171.50" cy="1210.50" r="4.75"/>
<circle cx="1125.50" cy="1211.75" r="4.75"/>
<circle cx="1146.00" cy="1217.50" r="4.75"/>
<circle cx="1146.00" cy="1228.00" r="4.75"/>
<circle cx="1141.50" cy="1233.00" r="4.75"/>
<circle cx="1125.50" cy="1240.50" r="4.75"/>
<circle cx="1151.00" cy="1212.00" r="4.75"/>
<circle cx="1143.00" cy="1189.50" r="4.75"/>
</g>
<g fill="#ffff00" stroke="#000" stroke-width="2.3">
<circle cx="1271.00" cy="990.50" r="4.75"/>
<circle cx="1279.75" cy="990.50" r="4.75"/>
<circle cx="1254.75" cy="1046.25" r="4.75"/>
<circle cx="1293.50" cy="1080.75" r="4.75"/>
<circle cx="1282.25" cy="1104.00" r="4.75"/>
<circle cx="1279.75" cy="1122.50" r="4.75"/>
<circle cx="1296.75" cy="1120.00" r="4.75"/>
<circle cx="1293.50" cy="1125.50" r="4.75"/>
<circle cx="1292.75" cy="1128.25" r="4.75"/>
<circle cx="1251.00" cy="1128.25" r="4.75"/>
<circle cx="1261.75" cy="1133.75" r="4.75"/>
<circle cx="1267.75" cy="1140.75" r="4.75"/>
<circle cx="1262.25" cy="1152.50" r="4.75"/>
<circle cx="1285.25" cy="1151.25" r="4.75"/>
<circle cx="1293.00" cy="1151.25" r="4.75"/>
<circle cx="1295.50" cy="1165.50" r="4.75"/>
<circle cx="1283.50" cy="1176.25" r="4.75"/>
<circle cx="1291.75" cy="1177.00" r="4.75"/>
<circle cx="1269.75" cy="1174.50" r="4.75"/>
<circle cx="1287.75" cy="1185.00" r="4.75"/>
<circle cx="1266.00" cy="1190.75" r="4.75"/>
<circle cx="1265.25" cy="1195.00" r="4.75"/>
<circle cx="1286.00" cy="1195.50" r="4.75"/>
<circle cx="1288.50" cy="1200.00" r="4.75"/>
<circle cx="1296.75" cy="1203.00" r="4.75"/>
<circle cx="1257.25" cy="1207.00" r="4.75"/>
<circle cx="1248.50" cy="1210.00" r="4.75"/>
<circle cx="1256.00" cy="1212.00" r="4.75"/>
<circle cx="1278.50" cy="1213.00" r="4.75"/>
<circle cx="1249.75" cy="1218.25" r="4.75"/>
<circle cx="1277.25" cy="1225.00" r="4.75"/>
<circle cx="1272.75" cy="1229.25" r="4.75"/>
<circle cx="1270.25" cy="1231.75" r="4.75"/>
<circle cx="1257.25" cy="1236.75" r="4.75"/>
<circle cx="1295.50" cy="1234.25" r="4.75"/>
<circle cx="1253.50" cy="1240.75" r="4.75"/>
<circle cx="1261.75" cy="1242.50" r="4.75"/>
<circle cx="1270.25" cy="1242.50" r="4.75"/>
<circle cx="1266.50" cy="1244.25" r="4.75"/>
<circle cx="1294.75" cy="1243.25" r="4.75"/>
<circle cx="1289.75" cy="1245.75" r="4.75"/>
<circle cx="1287.25" cy="1264.50" r="4.75"/>
<circle cx="1262.00" cy="1139.00" r="4.75"/>
<circle cx="1268.00" cy="1175.50" r="4.75"/>
<circle cx="1269.00" cy="1243.00" r="4.75"/>
</g>
<path d="M1147.25,1149.50 l7.5,7.5 l-7.5,7.5 l-7.5,-7.5 z" fill="#fff" stroke="#000" stroke-width="2"/>
<path d="M1271.75,1171.25 l7.5,7.5 l-7.5,7.5 l-7.5,-7.5 z" fill="#fff" stroke="#000" stroke-width="2"/>
<rect x="1072.25" y="926.25" width="273.75" height="353.75" fill="none" stroke="#000" stroke-width="2.6"/>
<text x="1071.50" y="917.00" font-size="27.6"><tspan font-weight="bold">Red Sea</tspan> (<tspan font-style="italic">n</tspan> = 45)</text>
<text x="1155.00" y="961.25" font-size="27.3"><tspan font-style="italic">p</tspan> = 7.88 × 10<tspan font-size="17" dy="-10">–9</tspan></text>
<path d="M1057.3,1382.00 H1072.25" stroke="#2b2b2b" stroke-width="2.7"/>
<text x="1045" y="1394.80" font-size="33" text-anchor="end">3.5</text>
<path d="M1057.3,1464.25 H1072.25" stroke="#2b2b2b" stroke-width="2.7"/>
<text x="1045" y="1477.05" font-size="33" text-anchor="end">3.0</text>
<path d="M1057.3,1545.75 H1072.25" stroke="#2b2b2b" stroke-width="2.7"/>
<text x="1045" y="1558.55" font-size="33" text-anchor="end">2.5</text>
<path d="M1057.3,1627.00 H1072.25" stroke="#2b2b2b" stroke-width="2.7"/>
<text x="1045" y="1639.80" font-size="33" text-anchor="end">2.0</text>
<path d="M1147.25,1707.00 V1722.30" stroke="#333" stroke-width="2.4"/>
<path d="M1271.75,1707.00 V1722.30" stroke="#333" stroke-width="2.4"/>
<path d="M1147.25,1370.00 V1659.25" stroke="#333" stroke-width="2.2" fill="none"/>
<path d="M1271.75,1400.00 V1691.25" stroke="#333" stroke-width="2.2" fill="none"/>
<rect x="1100.25" y="1488.00" width="94.5" height="99.00" fill="#bebebe" stroke="#333" stroke-width="2.5"/>
<path d="M1100.25,1553.75 H1194.75" stroke="#333" stroke-width="2.2" fill="none"/>
<rect x="1224.75" y="1502.50" width="94.25" height="113.75" fill="#ffff00" stroke="#333" stroke-width="2.5"/>
<path d="M1224.75,1558.00 H1319" stroke="#333" stroke-width="2.2" fill="none"/>
<g fill="#bebebe" stroke="#000" stroke-width="2.3">
<circle cx="1124.75" cy="1370.00" r="4.75"/>
<circle cx="1124.25" cy="1393.25" r="4.75"/>
<circle cx="1145.25" cy="1395.75" r="4.75"/>
<circle cx="1135.25" cy="1428.75" r="4.75"/>
<circle cx="1143.50" cy="1430.00" r="4.75"/>
<circle cx="1122.25" cy="1432.50" r="4.75"/>
<circle cx="1126.75" cy="1432.50" r="4.75"/>
<circle cx="1154.75" cy="1431.75" r="4.75"/>
<circle cx="1139.25" cy="1437.50" r="4.75"/>
<circle cx="1150.50" cy="1437.50" r="4.75"/>
<circle cx="1148.50" cy="1452.00" r="4.75"/>
<circle cx="1123.50" cy="1458.75" r="4.75"/>
<circle cx="1124.25" cy="1469.50" r="4.75"/>
<circle cx="1160.50" cy="1471.25" r="4.75"/>
<circle cx="1122.75" cy="1478.75" r="4.75"/>
<circle cx="1133.00" cy="1481.25" r="4.75"/>
<circle cx="1141.00" cy="1478.25" r="4.75"/>
<circle cx="1146.00" cy="1478.75" r="4.75"/>
<circle cx="1140.50" cy="1487.00" r="4.75"/>
<circle cx="1165.50" cy="1487.50" r="4.75"/>
<circle cx="1160.50" cy="1490.00" r="4.75"/>
<circle cx="1159.00" cy="1499.25" r="4.75"/>
<circle cx="1151.00" cy="1506.75" r="4.75"/>
<circle cx="1126.00" cy="1512.50" r="4.75"/>
<circle cx="1132.75" cy="1513.25" r="4.75"/>
<circle cx="1146.75" cy="1517.00" r="4.75"/>
<circle cx="1156.75" cy="1517.50" r="4.75"/>
<circle cx="1131.75" cy="1518.75" r="4.75"/>
<circle cx="1149.75" cy="1529.50" r="4.75"/>
<circle cx="1168.00" cy="1532.50" r="4.75"/>
<circle cx="1139.75" cy="1533.75" r="4.75"/>
<circle cx="1162.25" cy="1542.50" r="4.75"/>
<circle cx="1171.75" cy="1543.00" r="4.75"/>
<circle cx="1127.25" cy="1546.75" r="4.75"/>
<circle cx="1132.25" cy="1546.25" r="4.75"/>
<circle cx="1150.50" cy="1550.75" r="4.75"/>
<circle cx="1127.25" cy="1553.75" r="4.75"/>
<circle cx="1135.25" cy="1557.00" r="4.75"/>
<circle cx="1141.00" cy="1560.75" r="4.75"/>
<circle cx="1160.25" cy="1558.75" r="4.75"/>
<circle cx="1173.50" cy="1558.00" r="4.75"/>
<circle cx="1166.00" cy="1560.75" r="4.75"/>
<circle cx="1129.75" cy="1567.50" r="4.75"/>
<circle cx="1132.75" cy="1571.25" r="4.75"/>
<circle cx="1160.25" cy="1568.25" r="4.75"/>
<circle cx="1123.50" cy="1572.50" r="4.75"/>
<circle cx="1162.25" cy="1575.75" r="4.75"/>
<circle cx="1147.25" cy="1580.75" r="4.75"/>
<circle cx="1123.50" cy="1582.00" r="4.75"/>
<circle cx="1163.50" cy="1584.25" r="4.75"/>
<circle cx="1150.25" cy="1587.00" r="4.75"/>
<circle cx="1141.75" cy="1589.25" r="4.75"/>
<circle cx="1126.00" cy="1591.25" r="4.75"/>
<circle cx="1125.25" cy="1602.00" r="4.75"/>
<circle cx="1133.50" cy="1607.50" r="4.75"/>
<circle cx="1168.50" cy="1607.00" r="4.75"/>
<circle cx="1154.75" cy="1610.50" r="4.75"/>
<circle cx="1161.00" cy="1611.25" r="4.75"/>
<circle cx="1166.50" cy="1609.25" r="4.75"/>
<circle cx="1128.50" cy="1614.25" r="4.75"/>
<circle cx="1142.25" cy="1617.00" r="4.75"/>
<circle cx="1123.50" cy="1624.25" r="4.75"/>
<circle cx="1136.00" cy="1629.50" r="4.75"/>
<circle cx="1156.00" cy="1631.75" r="4.75"/>
<circle cx="1165.25" cy="1635.00" r="4.75"/>
<circle cx="1143.50" cy="1638.00" r="4.75"/>
<circle cx="1171.00" cy="1644.25" r="4.75"/>
<circle cx="1172.25" cy="1656.25" r="4.75"/>
<circle cx="1160.25" cy="1660.00" r="4.75"/>
<circle cx="1138.00" cy="1562.00" r="4.75"/>
<circle cx="1131.00" cy="1560.00" r="4.75"/>
<circle cx="1144.00" cy="1575.00" r="4.75"/>
<circle cx="1152.00" cy="1583.00" r="4.75"/>
<circle cx="1128.00" cy="1563.00" r="4.75"/>
<circle cx="1137.00" cy="1551.00" r="4.75"/>
<circle cx="1158.00" cy="1549.00" r="4.75"/>
<circle cx="1169.00" cy="1552.00" r="4.75"/>
<circle cx="1153.00" cy="1520.00" r="4.75"/>
<circle cx="1143.00" cy="1543.00" r="4.75"/>
<circle cx="1127.00" cy="1578.00" r="4.75"/>
<circle cx="1135.00" cy="1583.00" r="4.75"/>
</g>
<g fill="#ffff00" stroke="#000" stroke-width="2.3">
<circle cx="1271.75" cy="1398.75" r="4.75"/>
<circle cx="1287.25" cy="1410.75" r="4.75"/>
<circle cx="1250.50" cy="1423.75" r="4.75"/>
<circle cx="1276.75" cy="1429.50" r="4.75"/>
<circle cx="1290.50" cy="1435.00" r="4.75"/>
<circle cx="1279.00" cy="1453.75" r="4.75"/>
<circle cx="1264.75" cy="1457.00" r="4.75"/>
<circle cx="1269.25" cy="1455.50" r="4.75"/>
<circle cx="1266.00" cy="1462.50" r="4.75"/>
<circle cx="1279.00" cy="1463.75" r="4.75"/>
<circle cx="1289.25" cy="1466.25" r="4.75"/>
<circle cx="1258.00" cy="1467.50" r="4.75"/>
<circle cx="1281.00" cy="1474.25" r="4.75"/>
<circle cx="1291.00" cy="1477.00" r="4.75"/>
<circle cx="1296.00" cy="1480.50" r="4.75"/>
<circle cx="1251.00" cy="1482.00" r="4.75"/>
<circle cx="1269.25" cy="1485.50" r="4.75"/>
<circle cx="1262.25" cy="1497.50" r="4.75"/>
<circle cx="1275.50" cy="1502.50" r="4.75"/>
<circle cx="1247.25" cy="1507.50" r="4.75"/>
<circle cx="1254.75" cy="1508.00" r="4.75"/>
<circle cx="1273.50" cy="1515.00" r="4.75"/>
<circle cx="1278.50" cy="1518.25" r="4.75"/>
<circle cx="1271.00" cy="1524.25" r="4.75"/>
<circle cx="1296.00" cy="1524.25" r="4.75"/>
<circle cx="1282.75" cy="1527.50" r="4.75"/>
<circle cx="1254.00" cy="1532.00" r="4.75"/>
<circle cx="1286.00" cy="1536.75" r="4.75"/>
<circle cx="1267.75" cy="1538.75" r="4.75"/>
<circle cx="1250.25" cy="1545.75" r="4.75"/>
<circle cx="1264.75" cy="1545.00" r="4.75"/>
<circle cx="1293.50" cy="1545.00" r="4.75"/>
<circle cx="1254.75" cy="1553.25" r="4.75"/>
<circle cx="1294.25" cy="1558.25" r="4.75"/>
<circle cx="1277.25" cy="1558.00" r="4.75"/>
<circle cx="1256.00" cy="1564.25" r="4.75"/>
<circle cx="1264.75" cy="1567.50" r="4.75"/>
<circle cx="1296.75" cy="1568.25" r="4.75"/>
<circle cx="1259.75" cy="1570.75" r="4.75"/>
<circle cx="1271.00" cy="1571.75" r="4.75"/>
<circle cx="1284.75" cy="1572.50" r="4.75"/>
<circle cx="1289.25" cy="1574.25" r="4.75"/>
<circle cx="1262.25" cy="1577.00" r="4.75"/>
<circle cx="1267.75" cy="1580.00" r="4.75"/>
<circle cx="1278.50" cy="1581.75" r="4.75"/>
<circle cx="1258.00" cy="1585.00" r="4.75"/>
<circle cx="1263.50" cy="1595.00" r="4.75"/>
<circle cx="1276.75" cy="1598.75" r="4.75"/>
<circle cx="1296.00" cy="1596.75" r="4.75"/>
<circle cx="1274.25" cy="1607.50" r="4.75"/>
<circle cx="1296.00" cy="1609.25" r="4.75"/>
<circle cx="1256.75" cy="1616.25" r="4.75"/>
<circle cx="1267.25" cy="1618.75" r="4.75"/>
<circle cx="1278.00" cy="1617.50" r="4.75"/>
<circle cx="1295.50" cy="1617.50" r="4.75"/>
<circle cx="1274.25" cy="1622.50" r="4.75"/>
<circle cx="1253.50" cy="1626.75" r="4.75"/>
<circle cx="1252.75" cy="1629.25" r="4.75"/>
<circle cx="1278.50" cy="1632.00" r="4.75"/>
<circle cx="1291.75" cy="1638.00" r="4.75"/>
<circle cx="1262.75" cy="1644.50" r="4.75"/>
<circle cx="1267.75" cy="1651.75" r="4.75"/>
<circle cx="1277.25" cy="1650.75" r="4.75"/>
<circle cx="1281.00" cy="1655.00" r="4.75"/>
<circle cx="1291.75" cy="1657.50" r="4.75"/>
<circle cx="1296.75" cy="1657.00" r="4.75"/>
<circle cx="1248.50" cy="1662.00" r="4.75"/>
<circle cx="1247.25" cy="1663.75" r="4.75"/>
<circle cx="1271.00" cy="1673.75" r="4.75"/>
<circle cx="1285.50" cy="1691.25" r="4.75"/>
<circle cx="1258.00" cy="1556.00" r="4.75"/>
<circle cx="1262.00" cy="1561.00" r="4.75"/>
<circle cx="1281.00" cy="1566.00" r="4.75"/>
<circle cx="1273.00" cy="1563.00" r="4.75"/>
<circle cx="1255.00" cy="1574.00" r="4.75"/>
<circle cx="1268.00" cy="1590.00" r="4.75"/>
<circle cx="1284.00" cy="1550.00" r="4.75"/>
<circle cx="1275.00" cy="1545.00" r="4.75"/>
<circle cx="1260.00" cy="1540.00" r="4.75"/>
<circle cx="1289.00" cy="1565.00" r="4.75"/>
<circle cx="1270.00" cy="1553.00" r="4.75"/>
</g>
<path d="M1147.25,1532.00 l7.5,7.5 l-7.5,7.5 l-7.5,-7.5 z" fill="#fff" stroke="#000" stroke-width="2"/>
<path d="M1271.75,1546.25 l7.5,7.5 l-7.5,7.5 l-7.5,-7.5 z" fill="#fff" stroke="#000" stroke-width="2"/>
<rect x="1072.25" y="1353.25" width="273.75" height="353.75" fill="none" stroke="#000" stroke-width="2.6"/>
<text x="1071.50" y="1343.00" font-size="27.6"><tspan font-weight="bold">MProfile</tspan> (<tspan font-style="italic">n</tspan> = 81)</text>
<text x="1155.00" y="1382.00" font-size="27.3"><tspan font-style="italic">p</tspan> = 3.33 × 10<tspan font-size="17" dy="-10">–7</tspan></text>
<text x="1145.75" y="1760" font-size="33" text-anchor="middle">AGS1</text>
<text x="1274.5" y="1760" font-size="33" text-anchor="middle">AGS4</text>
<text x="1212" y="1821.75" font-size="33" text-anchor="middle">AGS predictions</text>
<text transform="translate(973.8,1304) rotate(-90)" font-size="33" textLength="383" lengthAdjust="spacingAndGlyphs">Average genome size (Mbp)</text>
<text x="940" y="497" font-size="33">(<tspan font-weight="bold">d</tspan>)</text>
</g>
</g>
</svg>
</body></html>
